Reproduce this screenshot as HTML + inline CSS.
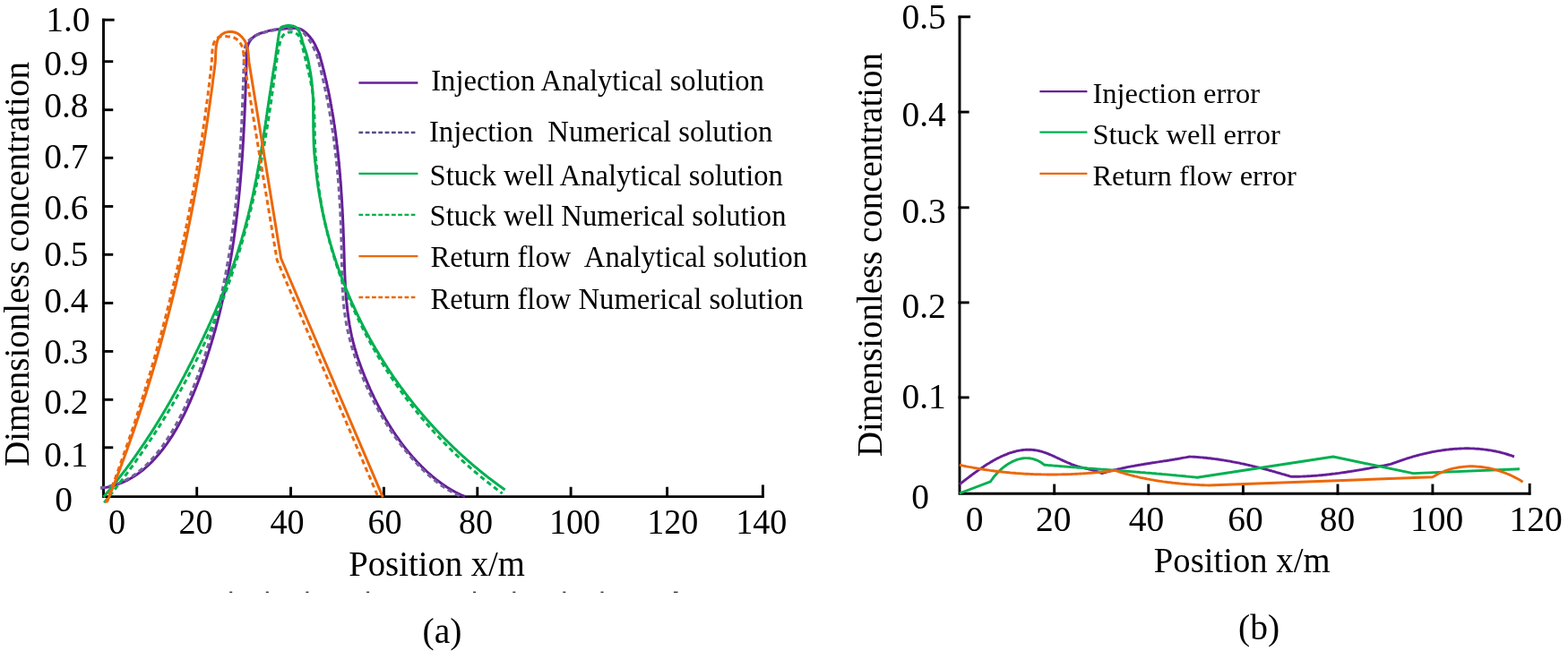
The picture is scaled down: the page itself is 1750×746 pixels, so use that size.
<!DOCTYPE html>
<html><head><meta charset="utf-8"><title>Figure</title>
<style>html,body{margin:0;padding:0;background:#fff}svg{display:block}</style></head>
<body>
<svg width="1750" height="746" viewBox="0 0 1750 746">
<rect width="1750" height="746" fill="#fff"/>
<g stroke="#000" stroke-width="2.9" fill="none" stroke-linecap="square">
<path d="M115.5,22.2 V554.6 H851.2"/>
<path d="M115.5,22.2 H126.2"/>
<path d="M115.5,68.7 H124.8"/>
<path d="M115.5,122.7 H124.8"/>
<path d="M115.5,176.3 H124.8"/>
<path d="M115.5,230.5 H124.8"/>
<path d="M115.5,284.3 H124.8"/>
<path d="M115.5,338.4 H124.8"/>
<path d="M115.5,392.4 H124.8"/>
<path d="M115.5,446.3 H124.8"/>
<path d="M115.5,499.8 H124.8"/>
<path d="M219.7,545.2 V554.6"/>
<path d="M324.5,545.2 V554.6"/>
<path d="M428.4,545.2 V554.6"/>
<path d="M532.8,545.2 V554.6"/>
<path d="M637.1,545.2 V554.6"/>
<path d="M744.6,545.2 V554.6"/>
<path d="M851.4,542.9 V554.6"/>
</g>
<g stroke="#000" stroke-width="2.9" fill="none" stroke-linecap="square">
<path d="M1071,19.1 V551.2 H1706.8"/>
<path d="M1071,18.8 H1081.6"/>
<path d="M1071,125.1 H1080.2"/>
<path d="M1071,231.8 H1080.2"/>
<path d="M1071,337.9 H1080.2"/>
<path d="M1071,443.9 H1080.2"/>
<path d="M1176.7,542.0 V551.2"/>
<path d="M1281.8,542.0 V551.2"/>
<path d="M1387.4,542.0 V551.2"/>
<path d="M1493,542.0 V551.2"/>
<path d="M1598.9,542.0 V551.2"/>
<path d="M1707.2,541.3 V551.2"/>
</g>
<path d="M112.2,545.2 L113.8,545.0 L115.4,544.8 L117.0,544.5 L118.5,544.3 L120.1,544.0 L121.6,543.6 L123.1,543.3 L124.6,542.9 L126.1,542.5 L127.6,542.1 L129.0,541.6 L130.5,541.2 L131.9,540.7 L133.3,540.1 L134.7,539.6 L136.1,539.0 L137.5,538.4 L138.8,537.8 L140.2,537.2 L141.5,536.6 L142.8,535.9 L144.1,535.2 L145.4,534.5 L146.7,533.8 L147.9,533.0 L149.2,532.2 L150.4,531.5 L151.6,530.6 L152.9,529.8 L154.1,529.0 L155.2,528.1 L156.4,527.3 L157.6,526.4 L158.7,525.5 L159.9,524.5 L161.0,523.6 L162.1,522.7 L163.2,521.7 L164.3,520.7 L165.4,519.7 L166.5,518.7 L167.5,517.7 L168.6,516.7 L169.6,515.6 L170.6,514.6 L171.6,513.5 L172.7,512.4 L173.6,511.3 L174.6,510.2 L175.6,509.1 L176.6,508.0 L177.5,506.9 L178.5,505.7 L179.4,504.6 L180.3,503.4 L181.3,502.3 L182.2,501.1 L183.1,499.9 L184.0,498.7 L184.8,497.5 L185.7,496.3 L186.6,495.1 L187.4,493.9 L188.3,492.7 L189.1,491.4 L189.9,490.2 L190.8,488.9 L191.6,487.7 L192.4,486.4 L193.2,485.1 L194.0,483.9 L194.7,482.6 L195.5,481.3 L196.3,480.0 L197.0,478.7 L197.8,477.4 L198.5,476.1 L199.3,474.8 L200.0,473.4 L200.7,472.1 L201.4,470.8 L202.1,469.4 L202.8,468.1 L203.5,466.7 L204.2,465.4 L204.9,464.0 L205.6,462.7 L206.2,461.3 L206.9,459.9 L207.6,458.6 L208.2,457.2 L208.8,455.8 L209.5,454.4 L210.1,453.0 L210.7,451.6 L211.4,450.2 L212.0,448.8 L212.6,447.4 L213.2,446.0 L213.8,444.6 L214.4,443.2 L215.0,441.8 L215.6,440.4 L216.2,439.0 L216.7,437.6 L217.3,436.2 L217.9,434.8 L218.5,433.3 L219.0,431.9 L219.6,430.5 L220.1,429.1 L220.7,427.7 L221.2,426.2 L221.8,424.8 L222.3,423.4 L222.8,422.0 L223.4,420.6 L223.9,419.1 L224.4,417.7 L224.9,416.3 L225.4,414.8 L226.0,413.4 L226.5,412.0 L227.0,410.6 L227.5,409.1 L228.0,407.7 L228.5,406.3 L229.0,404.8 L229.4,403.4 L229.9,402.0 L230.4,400.5 L230.9,399.1 L231.3,397.7 L231.8,396.2 L232.3,394.8 L232.7,393.4 L233.2,391.9 L233.7,390.5 L234.1,389.0 L234.5,387.6 L235.0,386.2 L235.4,384.7 L235.9,383.3 L236.3,381.8 L236.7,380.4 L237.2,378.9 L237.6,377.5 L238.0,376.1 L238.4,374.6 L238.8,373.2 L239.2,371.7 L239.7,370.3 L240.1,368.8 L240.5,367.4 L240.9,365.9 L241.2,364.5 L241.6,363.0 L242.0,361.6 L242.4,360.1 L242.8,358.7 L243.2,357.2 L243.5,355.8 L243.9,354.3 L244.3,352.8 L244.7,351.4 L245.0,349.9 L245.4,348.5 L245.7,347.0 L246.1,345.6 L246.4,344.1 L246.8,342.6 L247.1,341.2 L247.5,339.7 L247.8,338.3 L248.1,336.8 L248.5,335.3 L248.8,333.9 L249.1,332.4 L249.5,330.9 L249.8,329.5 L250.1,328.0 L250.4,326.6 L250.7,325.1 L251.0,323.6 L251.3,322.2 L251.7,320.7 L252.0,319.2 L252.3,317.8 L252.6,316.3 L252.8,314.8 L253.1,313.3 L253.4,311.9 L253.7,310.4 L254.0,308.9 L254.3,307.5 L254.5,306.0 L254.8,304.5 L255.1,303.0 L255.4,301.6 L255.6,300.1 L255.9,298.6 L256.2,297.2 L256.4,295.7 L256.7,294.2 L256.9,292.7 L257.2,291.3 L257.4,289.8 L257.7,288.3 L257.9,286.8 L258.2,285.3 L258.4,283.9 L258.6,282.4 L258.9,280.9 L259.1,279.4 L259.3,277.9 L259.6,276.5 L259.8,275.0 L260.0,273.5 L260.2,272.0 L260.5,270.5 L260.7,269.1 L260.9,267.6 L261.1,266.1 L261.3,264.6 L261.5,263.1 L261.7,261.6 L261.9,260.1 L262.1,258.7 L262.3,257.2 L262.5,255.7 L262.7,254.2 L262.9,252.7 L263.1,251.2 L263.3,249.7 L263.5,248.3 L263.7,246.8 L263.8,245.3 L264.0,243.8 L264.2,242.3 L264.4,240.8 L264.6,239.3 L264.7,237.8 L264.9,236.3 L265.1,234.8 L265.2,233.4 L265.4,231.9 L265.6,230.4 L265.7,228.9 L265.9,227.4 L266.0,225.9 L266.2,224.4 L266.3,222.9 L266.5,221.4 L266.6,219.9 L266.8,218.4 L266.9,216.9 L267.1,215.4 L267.2,213.9 L267.4,212.4 L267.5,210.9 L267.6,209.4 L267.8,208.0 L267.9,206.5 L268.0,205.0 L268.2,203.5 L268.3,202.0 L268.4,200.5 L268.6,199.0 L268.7,197.5 L268.8,196.0 L268.9,194.5 L269.0,193.0 L269.2,191.5 L269.3,190.0 L269.4,188.5 L269.5,187.0 L269.6,185.5 L269.7,184.0 L269.8,182.5 L270.0,181.0 L270.1,179.5 L270.2,178.0 L270.3,176.5 L270.4,175.0 L270.5,173.5 L270.6,172.0 L270.7,170.5 L270.8,169.0 L270.9,167.5 L271.0,166.0 L271.1,164.4 L271.1,162.9 L271.2,161.4 L271.3,159.9 L271.4,158.4 L271.5,156.9 L271.6,155.4 L271.7,153.9 L271.8,152.4 L271.8,150.9 L271.9,149.4 L272.0,147.9 L272.1,146.4 L272.2,144.9 L272.2,143.4 L272.3,141.9 L272.4,140.4 L272.5,138.9 L272.5,137.4 L272.6,135.9 L272.7,134.4 L272.8,132.8 L272.8,131.3 L272.9,129.8 L273.0,128.3 L273.0,126.8 L273.1,125.3 L273.2,123.8 L273.2,122.3 L273.3,120.8 L273.4,119.3 L273.4,117.8 L273.5,116.3 L273.5,114.8 L273.6,113.3 L273.7,111.8 L273.7,110.2 L273.8,108.7 L273.8,107.2 L273.9,105.7 L273.9,104.2 L274.0,102.7 L274.1,101.2 L274.1,99.7 L274.2,98.2 L274.2,96.7 L274.3,95.2 L274.3,93.7 L274.4,92.1 L274.4,90.6 L274.5,89.1 L274.5,87.6 L274.6,86.1 L274.6,84.6 L274.7,83.1 L274.7,81.6 L274.8,80.1 L274.8,78.6 L274.8,77.1 L274.9,75.6 L274.9,74.0 L275.0,72.5 L275.0,71.0 L275.1,69.5 L275.1,68.0 L275.2,66.5 L275.2,65.0 L275.3,63.3 L275.4,61.6 L275.5,59.9 L275.5,58.2 L275.6,56.6 L275.8,54.9 L276.0,53.4 L276.3,52.0 L276.8,50.4 L277.3,48.9 L277.9,47.6 L278.7,46.3 L279.5,45.0 L280.5,43.8 L281.6,42.6 L282.8,41.5 L284.0,40.5 L285.3,39.6 L286.8,38.7 L288.4,38.0 L290.1,37.4 L292.0,36.8 L293.4,36.3 L295.0,35.9 L296.7,35.4 L298.4,34.9 L300.1,34.4 L301.8,34.0 L303.4,33.7 L304.8,33.4 L306.5,33.1 L308.0,33.0 L309.4,32.8 L311.1,32.7 L312.4,32.6 L313.9,32.4 L315.4,32.3 L316.9,32.1 L318.5,32.0 L320.1,31.8 L321.7,31.8 L323.2,31.7 L324.9,31.6 L326.5,31.5 L328.2,31.5 L329.9,31.5 L331.5,31.5 L333.0,31.7 L334.5,32.1 L336.0,32.7 L337.4,33.5 L338.7,34.4 L340.0,35.4 L341.3,36.5 L342.5,37.6 L343.5,38.6 L344.5,39.7 L345.5,40.8 L346.4,41.9 L347.4,43.2 L348.3,44.4 L349.2,45.7 L350.0,47.0 L350.8,48.3 L351.5,49.7 L352.2,51.1 L352.9,52.6 L353.6,54.1 L354.3,55.6 L354.9,57.1 L355.6,58.5 L356.3,60.0 L356.7,61.5 L357.1,62.9 L357.5,64.4 L357.9,65.8 L358.3,67.3 L358.7,68.8 L359.1,70.2 L359.5,71.7 L359.9,73.1 L360.3,74.6 L360.6,76.1 L361.0,77.5 L361.4,79.0 L361.7,80.5 L362.1,81.9 L362.4,83.4 L362.8,84.9 L363.1,86.3 L363.5,87.8 L363.8,89.3 L364.1,90.7 L364.5,92.2 L364.8,93.7 L365.1,95.2 L365.4,96.6 L365.7,98.1 L366.1,99.6 L366.4,101.0 L366.7,102.5 L367.0,104.0 L367.3,105.5 L367.6,106.9 L367.8,108.4 L368.1,109.9 L368.4,111.4 L368.7,112.8 L369.0,114.3 L369.2,115.8 L369.5,117.3 L369.8,118.8 L370.0,120.2 L370.3,121.7 L370.6,123.2 L370.8,124.7 L371.1,126.2 L371.3,127.6 L371.5,129.1 L371.8,130.6 L372.0,132.1 L372.3,133.6 L372.5,135.1 L372.7,136.5 L372.9,138.0 L373.2,139.5 L373.4,141.0 L373.6,142.5 L373.8,144.0 L374.0,145.5 L374.2,147.0 L374.4,148.4 L374.6,149.9 L374.8,151.4 L375.0,152.9 L375.2,154.4 L375.4,155.9 L375.6,157.4 L375.8,158.9 L375.9,160.4 L376.1,161.9 L376.3,163.3 L376.5,164.8 L376.6,166.3 L376.8,167.8 L377.0,169.3 L377.1,170.8 L377.3,172.3 L377.5,173.8 L377.6,175.3 L377.8,176.8 L377.9,178.3 L378.1,179.8 L378.2,181.3 L378.4,182.8 L378.5,184.3 L378.6,185.8 L378.8,187.3 L378.9,188.8 L379.1,190.3 L379.2,191.8 L379.3,193.3 L379.4,194.8 L379.6,196.3 L379.7,197.8 L379.8,199.3 L379.9,200.8 L380.0,202.3 L380.2,203.8 L380.3,205.3 L380.4,206.8 L380.5,208.3 L380.6,209.8 L380.7,211.3 L380.8,212.8 L380.9,214.3 L381.0,215.8 L381.1,217.3 L381.2,218.8 L381.3,220.3 L381.4,221.8 L381.5,223.3 L381.6,224.8 L381.7,226.3 L381.7,227.8 L381.8,229.3 L381.9,230.8 L382.0,232.3 L382.1,233.9 L382.2,235.4 L382.2,236.9 L382.3,238.4 L382.4,239.9 L382.5,241.4 L382.5,242.9 L382.6,244.4 L382.7,245.9 L382.7,247.4 L382.8,248.9 L382.9,250.4 L382.9,252.0 L383.0,253.5 L383.1,255.0 L383.1,256.5 L383.2,258.0 L383.2,259.5 L383.3,261.0 L383.3,262.5 L383.4,264.0 L383.5,265.5 L383.5,267.1 L383.6,268.6 L383.6,270.1 L383.7,271.6 L383.7,273.1 L383.8,274.6 L383.8,276.1 L383.9,277.6 L383.9,279.1 L384.0,280.7 L384.0,282.2 L384.1,283.7 L384.1,285.2 L384.1,286.7 L384.2,288.2 L384.2,289.7 L384.3,291.2 L384.3,292.8 L384.4,294.3 L384.4,295.8 L384.5,297.3 L384.5,298.8 L384.6,300.3 L384.7,301.8 L384.7,303.3 L384.8,304.8 L384.8,306.3 L384.9,307.9 L385.0,309.4 L385.0,310.9 L385.1,312.4 L385.2,313.9 L385.3,315.4 L385.3,316.9 L385.4,318.4 L385.5,319.9 L385.6,321.4 L385.7,322.9 L385.8,324.4 L385.9,325.9 L386.0,327.4 L386.1,328.9 L386.2,330.4 L386.3,331.9 L386.5,333.4 L386.6,334.9 L386.7,336.4 L386.9,337.9 L387.0,339.3 L387.2,340.8 L387.3,342.3 L387.5,343.8 L387.6,345.3 L387.8,346.8 L388.0,348.3 L388.2,349.7 L388.4,351.2 L388.6,352.7 L388.8,354.2 L389.0,355.6 L389.2,357.1 L389.4,358.6 L389.7,360.1 L389.9,361.5 L390.1,363.0 L390.4,364.5 L390.7,365.9 L390.9,367.4 L391.2,368.8 L391.5,370.3 L391.8,371.8 L392.1,373.2 L392.4,374.7 L392.7,376.1 L393.1,377.6 L393.4,379.0 L393.8,380.4 L394.1,381.9 L394.5,383.3 L394.9,384.8 L395.3,386.2 L395.6,387.6 L396.1,389.1 L396.5,390.5 L396.9,391.9 L397.3,393.3 L397.8,394.8 L398.2,396.2 L398.7,397.6 L399.1,399.0 L399.6,400.5 L400.1,401.9 L400.6,403.3 L401.1,404.7 L401.6,406.1 L402.1,407.5 L402.6,408.9 L403.1,410.3 L403.6,411.7 L404.2,413.1 L404.7,414.5 L405.3,415.9 L405.8,417.3 L406.4,418.7 L406.9,420.1 L407.5,421.5 L408.1,422.9 L408.7,424.3 L409.3,425.7 L409.9,427.1 L410.5,428.5 L411.1,429.9 L411.7,431.3 L412.3,432.7 L412.9,434.1 L413.5,435.4 L414.2,436.8 L414.8,438.2 L415.5,439.6 L416.1,441.0 L416.8,442.3 L417.4,443.7 L418.1,445.1 L418.8,446.5 L419.5,447.8 L420.1,449.2 L420.8,450.5 L421.5,451.9 L422.2,453.3 L422.9,454.6 L423.7,456.0 L424.4,457.3 L425.1,458.7 L425.8,460.0 L426.6,461.3 L427.3,462.7 L428.1,464.0 L428.8,465.3 L429.6,466.6 L430.3,468.0 L431.1,469.3 L431.9,470.6 L432.7,471.9 L433.5,473.2 L434.3,474.5 L435.1,475.8 L435.9,477.1 L436.7,478.4 L437.5,479.6 L438.4,480.9 L439.2,482.2 L440.0,483.5 L440.9,484.7 L441.7,486.0 L442.6,487.2 L443.5,488.5 L444.4,489.7 L445.2,490.9 L446.1,492.2 L447.0,493.4 L447.9,494.6 L448.8,495.8 L449.7,497.0 L450.6,498.2 L451.6,499.4 L452.5,500.6 L453.4,501.8 L454.4,503.0 L455.3,504.1 L456.3,505.3 L457.3,506.4 L458.2,507.6 L459.2,508.7 L460.2,509.9 L461.2,511.0 L462.2,512.1 L463.2,513.2 L464.2,514.3 L465.2,515.4 L466.2,516.5 L467.3,517.6 L468.3,518.7 L469.4,519.7 L470.4,520.8 L471.5,521.8 L472.5,522.9 L473.6,523.9 L474.7,524.9 L475.8,526.0 L476.9,527.0 L478.0,528.0 L479.1,529.0 L480.2,529.9 L481.3,530.9 L482.4,531.9 L483.6,532.8 L484.7,533.8 L485.9,534.7 L487.0,535.6 L488.2,536.5 L489.4,537.4 L490.6,538.3 L491.8,539.2 L493.0,540.1 L494.2,540.9 L495.4,541.8 L496.6,542.6 L497.9,543.4 L499.1,544.2 L500.4,545.0 L501.6,545.8 L502.9,546.6 L504.2,547.3 L505.5,548.1 L506.8,548.8 L508.1,549.5 L509.4,550.2 L510.8,550.9 L512.1,551.5 L513.5,552.2 L514.8,552.8 L516.2,553.4 L517.6,554.0 L519.0,554.6" fill="none" stroke="#661f98" stroke-width="3.0" stroke-linejoin="round"/>
<path d="M112.2,544.8 L113.8,544.6 L115.4,544.4 L117.0,544.1 L118.5,543.8 L120.1,543.5 L121.6,543.1 L123.1,542.7 L124.6,542.3 L126.0,541.9 L127.5,541.5 L128.9,541.0 L130.3,540.5 L131.8,539.9 L133.2,539.4 L134.5,538.8 L135.9,538.2 L137.2,537.6 L138.6,537.0 L139.9,536.3 L141.2,535.6 L142.5,534.9 L143.8,534.2 L145.0,533.4 L146.3,532.7 L147.5,531.9 L148.7,531.1 L149.9,530.2 L151.1,529.4 L152.3,528.5 L153.5,527.6 L154.6,526.7 L155.8,525.8 L156.9,524.9 L158.0,524.0 L159.1,523.0 L160.2,522.0 L161.3,521.0 L162.4,520.0 L163.5,519.0 L164.5,518.0 L165.6,516.9 L166.6,515.9 L167.6,514.8 L168.6,513.7 L169.6,512.6 L170.6,511.5 L171.6,510.4 L172.5,509.3 L173.5,508.2 L174.4,507.0 L175.4,505.9 L176.3,504.7 L177.2,503.5 L178.2,502.4 L179.1,501.2 L179.9,500.0 L180.8,498.8 L181.7,497.6 L182.6,496.4 L183.4,495.1 L184.3,493.9 L185.1,492.7 L186.0,491.4 L186.8,490.2 L187.6,488.9 L188.4,487.7 L189.2,486.4 L190.0,485.1 L190.8,483.8 L191.6,482.6 L192.4,481.3 L193.1,480.0 L193.9,478.7 L194.6,477.3 L195.4,476.0 L196.1,474.7 L196.9,473.4 L197.6,472.0 L198.3,470.7 L199.0,469.4 L199.7,468.0 L200.4,466.7 L201.1,465.3 L201.8,464.0 L202.5,462.6 L203.1,461.2 L203.8,459.9 L204.5,458.5 L205.1,457.1 L205.8,455.7 L206.4,454.4 L207.0,453.0 L207.7,451.6 L208.3,450.2 L208.9,448.8 L209.5,447.4 L210.2,446.0 L210.8,444.6 L211.4,443.2 L212.0,441.8 L212.6,440.4 L213.1,439.0 L213.7,437.5 L214.3,436.1 L214.9,434.7 L215.4,433.3 L216.0,431.9 L216.6,430.5 L217.1,429.0 L217.7,427.6 L218.2,426.2 L218.8,424.8 L219.3,423.4 L219.9,421.9 L220.4,420.5 L220.9,419.1 L221.5,417.7 L222.0,416.2 L222.5,414.8 L223.0,413.4 L223.5,412.0 L224.0,410.5 L224.5,409.1 L225.0,407.7 L225.5,406.2 L226.0,404.8 L226.5,403.4 L227.0,401.9 L227.5,400.5 L228.0,399.1 L228.5,397.6 L228.9,396.2 L229.4,394.8 L229.9,393.3 L230.3,391.9 L230.8,390.4 L231.2,389.0 L231.7,387.6 L232.1,386.1 L232.6,384.7 L233.0,383.2 L233.5,381.8 L233.9,380.3 L234.3,378.9 L234.7,377.5 L235.2,376.0 L235.6,374.6 L236.0,373.1 L236.4,371.7 L236.8,370.2 L237.2,368.8 L237.6,367.3 L238.0,365.9 L238.4,364.4 L238.8,363.0 L239.2,361.5 L239.6,360.1 L240.0,358.6 L240.4,357.2 L240.7,355.7 L241.1,354.2 L241.5,352.8 L241.9,351.3 L242.2,349.9 L242.6,348.4 L242.9,347.0 L243.3,345.5 L243.7,344.0 L244.0,342.6 L244.4,341.1 L244.7,339.7 L245.0,338.2 L245.4,336.7 L245.7,335.3 L246.0,333.8 L246.4,332.3 L246.7,330.9 L247.0,329.4 L247.3,327.9 L247.7,326.5 L248.0,325.0 L248.3,323.5 L248.6,322.1 L248.9,320.6 L249.2,319.1 L249.5,317.7 L249.8,316.2 L250.1,314.7 L250.4,313.3 L250.7,311.8 L251.0,310.3 L251.2,308.8 L251.5,307.4 L251.8,305.9 L252.1,304.4 L252.4,302.9 L252.6,301.5 L252.9,300.0 L253.2,298.5 L253.4,297.0 L253.7,295.6 L253.9,294.1 L254.2,292.6 L254.5,291.1 L254.7,289.6 L255.0,288.2 L255.2,286.7 L255.4,285.2 L255.7,283.7 L255.9,282.2 L256.2,280.8 L256.4,279.3 L256.6,277.8 L256.8,276.3 L257.1,274.8 L257.3,273.3 L257.5,271.9 L257.7,270.4 L258.0,268.9 L258.2,267.4 L258.4,265.9 L258.6,264.4 L258.8,262.9 L259.0,261.5 L259.2,260.0 L259.4,258.5 L259.6,257.0 L259.8,255.5 L260.0,254.0 L260.2,252.5 L260.4,251.0 L260.6,249.5 L260.8,248.0 L260.9,246.6 L261.1,245.1 L261.3,243.6 L261.5,242.1 L261.7,240.6 L261.8,239.1 L262.0,237.6 L262.2,236.1 L262.3,234.6 L262.5,233.1 L262.7,231.6 L262.8,230.1 L263.0,228.6 L263.1,227.1 L263.3,225.6 L263.5,224.2 L263.6,222.7 L263.8,221.2 L263.9,219.7 L264.1,218.2 L264.2,216.7 L264.3,215.2 L264.5,213.7 L264.6,212.2 L264.8,210.7 L264.9,209.2 L265.0,207.7 L265.2,206.2 L265.3,204.7 L265.4,203.2 L265.6,201.7 L265.7,200.2 L265.8,198.7 L265.9,197.2 L266.1,195.7 L266.2,194.2 L266.3,192.7 L266.4,191.2 L266.5,189.7 L266.6,188.2 L266.8,186.7 L266.9,185.2 L267.0,183.7 L267.1,182.1 L267.2,180.6 L267.3,179.1 L267.4,177.6 L267.5,176.1 L267.6,174.6 L267.7,173.1 L267.8,171.6 L267.9,170.1 L268.0,168.6 L268.1,167.1 L268.2,165.6 L268.3,164.1 L268.4,162.6 L268.5,161.1 L268.5,159.6 L268.6,158.1 L268.7,156.6 L268.8,155.1 L268.9,153.6 L269.0,152.0 L269.1,150.5 L269.1,149.0 L269.2,147.5 L269.3,146.0 L269.4,144.5 L269.4,143.0 L269.5,141.5 L269.6,140.0 L269.7,138.5 L269.7,137.0 L269.8,135.5 L269.9,134.0 L269.9,132.4 L270.0,130.9 L270.1,129.4 L270.1,127.9 L270.2,126.4 L270.3,124.9 L270.3,123.4 L270.4,121.9 L270.5,120.4 L270.5,118.9 L270.6,117.4 L270.6,115.8 L270.7,114.3 L270.8,112.8 L270.8,111.3 L270.9,109.8 L270.9,108.3 L271.0,106.8 L271.0,105.3 L271.1,103.8 L271.1,102.3 L271.2,100.8 L271.2,99.2 L271.3,97.7 L271.3,96.2 L271.4,94.7 L271.4,93.2 L271.5,91.7 L271.5,90.2 L271.6,88.7 L271.6,87.2 L271.7,85.7 L271.7,84.1 L271.8,82.6 L271.8,81.1 L271.9,79.6 L271.9,78.1 L271.9,76.6 L272.0,75.1 L272.0,73.6 L272.1,72.1 L272.1,70.6 L272.2,69.1 L272.2,67.5 L272.2,66.0 L272.3,64.5 L272.3,63.0 L272.4,61.5 L272.4,60.0 L272.7,58.3 L272.9,56.5 L273.1,54.8 L273.4,53.1 L273.8,51.5 L274.3,50.0 L275.1,48.4 L276.1,47.0 L277.3,45.7 L278.5,44.5 L279.7,43.5 L281.0,42.5 L282.4,41.6 L283.9,40.8 L285.3,40.0 L286.9,39.2 L288.5,38.5 L290.2,37.9 L292.0,37.3 L293.4,36.8 L295.0,36.4 L296.7,35.9 L298.4,35.4 L300.1,35.0 L301.8,34.5 L303.4,34.2 L304.8,33.9 L306.5,33.6 L308.0,33.5 L309.4,33.3 L311.1,33.2 L312.4,33.1 L313.9,32.9 L315.4,32.8 L316.9,32.6 L318.5,32.5 L320.1,32.4 L321.7,32.3 L323.2,32.3 L324.9,32.3 L326.6,32.2 L328.3,32.1 L330.0,32.2 L331.6,32.3 L333.1,32.5 L334.5,33.0 L336.0,33.9 L337.4,35.0 L338.6,36.3 L339.8,37.8 L341.0,39.2 L342.0,40.4 L342.9,41.6 L343.9,42.9 L344.8,44.3 L345.7,45.6 L346.6,47.0 L347.5,48.5 L348.2,49.8 L348.9,51.1 L349.6,52.5 L350.3,53.9 L350.9,55.3 L351.5,56.7 L352.2,58.2 L352.8,59.6 L353.5,61.0 L353.9,62.5 L354.3,63.9 L354.7,65.4 L355.1,66.8 L355.5,68.3 L355.9,69.8 L356.2,71.2 L356.6,72.7 L357.0,74.2 L357.4,75.6 L357.7,77.1 L358.1,78.6 L358.4,80.0 L358.8,81.5 L359.1,83.0 L359.5,84.4 L359.8,85.9 L360.2,87.4 L360.5,88.9 L360.9,90.3 L361.2,91.8 L361.5,93.3 L361.8,94.7 L362.2,96.2 L362.5,97.7 L362.8,99.2 L363.1,100.6 L363.4,102.1 L363.7,103.6 L364.0,105.1 L364.3,106.5 L364.6,108.0 L364.9,109.5 L365.2,111.0 L365.5,112.5 L365.8,113.9 L366.1,115.4 L366.3,116.9 L366.6,118.4 L366.9,119.9 L367.1,121.3 L367.4,122.8 L367.7,124.3 L367.9,125.8 L368.2,127.3 L368.4,128.8 L368.7,130.2 L368.9,131.7 L369.2,133.2 L369.4,134.7 L369.7,136.2 L369.9,137.7 L370.1,139.2 L370.4,140.6 L370.6,142.1 L370.8,143.6 L371.0,145.1 L371.3,146.6 L371.5,148.1 L371.7,149.6 L371.9,151.1 L372.1,152.6 L372.3,154.0 L372.5,155.5 L372.7,157.0 L372.9,158.5 L373.1,160.0 L373.3,161.5 L373.5,163.0 L373.7,164.5 L373.9,166.0 L374.0,167.5 L374.2,169.0 L374.4,170.5 L374.6,172.0 L374.7,173.5 L374.9,175.0 L375.1,176.5 L375.2,178.0 L375.4,179.5 L375.5,181.0 L375.7,182.5 L375.9,184.0 L376.0,185.4 L376.2,186.9 L376.3,188.4 L376.4,189.9 L376.6,191.4 L376.7,192.9 L376.9,194.5 L377.0,196.0 L377.1,197.5 L377.3,199.0 L377.4,200.5 L377.5,202.0 L377.6,203.5 L377.7,205.0 L377.9,206.5 L378.0,208.0 L378.1,209.5 L378.2,211.0 L378.3,212.5 L378.4,214.0 L378.5,215.5 L378.6,217.0 L378.7,218.5 L378.8,220.0 L378.9,221.5 L379.0,223.0 L379.1,224.5 L379.2,226.0 L379.3,227.6 L379.4,229.1 L379.5,230.6 L379.5,232.1 L379.6,233.6 L379.7,235.1 L379.8,236.6 L379.9,238.1 L379.9,239.6 L380.0,241.1 L380.1,242.7 L380.1,244.2 L380.2,245.7 L380.3,247.2 L380.3,248.7 L380.4,250.2 L380.4,251.7 L380.5,253.2 L380.5,254.7 L380.6,256.3 L380.6,257.8 L380.7,259.3 L380.7,260.8 L380.8,262.3 L380.8,263.8 L380.9,265.3 L380.9,266.9 L381.0,268.4 L381.0,269.9 L381.0,271.4 L381.1,272.9 L381.1,274.4 L381.1,275.9 L381.1,277.5 L381.2,279.0 L381.2,280.5 L381.2,282.0 L381.3,283.5 L381.3,285.0 L381.3,286.6 L381.3,288.1 L381.3,289.6 L381.4,291.1 L381.4,292.6 L381.4,294.1 L381.5,295.7 L381.5,297.2 L381.5,298.7 L381.5,300.2 L381.6,301.7 L381.6,303.2 L381.6,304.7 L381.7,306.3 L381.7,307.8 L381.8,309.3 L381.8,310.8 L381.9,312.3 L381.9,313.8 L382.0,315.3 L382.0,316.8 L382.1,318.3 L382.2,319.8 L382.2,321.3 L382.3,322.8 L382.4,324.3 L382.5,325.8 L382.6,327.3 L382.7,328.8 L382.8,330.3 L382.9,331.8 L383.0,333.3 L383.1,334.8 L383.2,336.3 L383.4,337.8 L383.5,339.3 L383.6,340.8 L383.8,342.3 L383.9,343.8 L384.1,345.2 L384.3,346.7 L384.5,348.2 L384.7,349.7 L384.9,351.2 L385.1,352.6 L385.3,354.1 L385.5,355.6 L385.7,357.0 L386.0,358.5 L386.2,360.0 L386.5,361.4 L386.8,362.9 L387.0,364.4 L387.3,365.8 L387.6,367.3 L387.9,368.7 L388.2,370.2 L388.6,371.6 L388.9,373.1 L389.3,374.5 L389.6,376.0 L390.0,377.4 L390.3,378.8 L390.7,380.3 L391.1,381.7 L391.5,383.2 L391.9,384.6 L392.3,386.0 L392.7,387.5 L393.1,388.9 L393.6,390.3 L394.0,391.7 L394.4,393.2 L394.9,394.6 L395.4,396.0 L395.8,397.4 L396.3,398.9 L396.8,400.3 L397.3,401.7 L397.8,403.1 L398.3,404.5 L398.8,405.9 L399.3,407.3 L399.8,408.8 L400.3,410.2 L400.9,411.6 L401.4,413.0 L401.9,414.4 L402.5,415.8 L403.1,417.2 L403.6,418.6 L404.2,420.0 L404.8,421.4 L405.3,422.8 L405.9,424.2 L406.5,425.6 L407.1,427.0 L407.7,428.4 L408.3,429.8 L408.9,431.2 L409.6,432.6 L410.2,433.9 L410.8,435.3 L411.5,436.7 L412.1,438.1 L412.8,439.5 L413.4,440.8 L414.1,442.2 L414.7,443.6 L415.4,444.9 L416.1,446.3 L416.8,447.7 L417.5,449.0 L418.2,450.4 L418.9,451.7 L419.6,453.1 L420.3,454.4 L421.0,455.7 L421.8,457.1 L422.5,458.4 L423.2,459.8 L424.0,461.1 L424.7,462.4 L425.5,463.7 L426.3,465.0 L427.0,466.4 L427.8,467.7 L428.6,469.0 L429.4,470.3 L430.2,471.6 L431.0,472.9 L431.8,474.2 L432.6,475.4 L433.4,476.7 L434.2,478.0 L435.1,479.3 L435.9,480.6 L436.7,481.8 L437.6,483.1 L438.4,484.3 L439.3,485.6 L440.2,486.8 L441.0,488.1 L441.9,489.3 L442.8,490.5 L443.7,491.8 L444.6,493.0 L445.5,494.2 L446.4,495.4 L447.3,496.6 L448.2,497.8 L449.2,499.0 L450.1,500.2 L451.0,501.4 L452.0,502.6 L452.9,503.7 L453.9,504.9 L454.8,506.1 L455.8,507.2 L456.8,508.4 L457.8,509.5 L458.7,510.6 L459.7,511.8 L460.7,512.9 L461.7,514.0 L462.7,515.1 L463.8,516.2 L464.8,517.3 L465.8,518.4 L466.8,519.5 L467.9,520.6 L468.9,521.6 L470.0,522.7 L471.0,523.8 L472.1,524.8 L473.2,525.9 L474.2,526.9 L475.3,527.9 L476.4,528.9 L477.5,529.9 L478.6,530.9 L479.7,531.9 L480.9,532.9 L482.0,533.9 L483.1,534.8 L484.3,535.8 L485.4,536.7 L486.6,537.6 L487.8,538.6 L488.9,539.5 L490.1,540.3 L491.3,541.2 L492.5,542.1 L493.8,542.9 L495.0,543.8 L496.2,544.6 L497.5,545.4 L498.7,546.2 L500.0,547.0 L501.3,547.8 L502.6,548.5 L503.9,549.2 L505.2,550.0 L506.5,550.7 L507.9,551.4 L509.2,552.0 L510.6,552.7 L512.0,553.3 L513.3,553.9 L514.7,554.5 L516.2,555.1" fill="none" stroke="#74609e" stroke-width="3.0" stroke-linejoin="round" stroke-dasharray="5.6 3.8"/>
<path d="M115.5,554.9 L116.5,553.8 L117.5,552.6 L118.4,551.5 L119.4,550.3 L120.4,549.2 L121.3,548.1 L122.3,546.9 L123.2,545.7 L124.2,544.6 L125.1,543.4 L126.1,542.3 L127.0,541.1 L128.0,539.9 L128.9,538.8 L129.9,537.6 L130.8,536.4 L131.7,535.3 L132.6,534.1 L133.6,532.9 L134.5,531.7 L135.4,530.5 L136.3,529.3 L137.2,528.1 L138.1,527.0 L139.1,525.8 L140.0,524.6 L140.9,523.4 L141.8,522.2 L142.6,521.0 L143.5,519.8 L144.4,518.6 L145.3,517.3 L146.2,516.1 L147.1,514.9 L148.0,513.7 L148.8,512.5 L149.7,511.3 L150.6,510.0 L151.4,508.8 L152.3,507.6 L153.2,506.4 L154.0,505.1 L154.9,503.9 L155.7,502.7 L156.6,501.4 L157.4,500.2 L158.3,498.9 L159.1,497.7 L160.0,496.5 L160.8,495.2 L161.7,494.0 L162.5,492.7 L163.3,491.5 L164.1,490.2 L165.0,488.9 L165.8,487.7 L166.6,486.4 L167.4,485.2 L168.3,483.9 L169.1,482.6 L169.9,481.4 L170.7,480.1 L171.5,478.8 L172.3,477.6 L173.1,476.3 L173.9,475.0 L174.7,473.7 L175.5,472.4 L176.3,471.2 L177.1,469.9 L177.8,468.6 L178.6,467.3 L179.4,466.0 L180.2,464.7 L181.0,463.4 L181.7,462.2 L182.5,460.9 L183.3,459.6 L184.1,458.3 L184.8,457.0 L185.6,455.7 L186.3,454.4 L187.1,453.1 L187.9,451.8 L188.6,450.5 L189.4,449.2 L190.1,447.8 L190.9,446.5 L191.6,445.2 L192.3,443.9 L193.1,442.6 L193.8,441.3 L194.6,440.0 L195.3,438.6 L196.0,437.3 L196.8,436.0 L197.5,434.7 L198.2,433.4 L198.9,432.0 L199.7,430.7 L200.4,429.4 L201.1,428.1 L201.8,426.7 L202.5,425.4 L203.2,424.1 L204.0,422.7 L204.7,421.4 L205.4,420.1 L206.1,418.7 L206.8,417.4 L207.5,416.0 L208.2,414.7 L208.9,413.4 L209.6,412.0 L210.2,410.7 L210.9,409.3 L211.6,408.0 L212.3,406.7 L213.0,405.3 L213.7,404.0 L214.4,402.6 L215.0,401.3 L215.7,399.9 L216.4,398.6 L217.1,397.2 L217.7,395.9 L218.4,394.5 L219.1,393.1 L219.7,391.8 L220.4,390.4 L221.1,389.1 L221.7,387.7 L222.4,386.4 L223.0,385.0 L223.7,383.6 L224.4,382.3 L225.0,380.9 L225.7,379.6 L226.3,378.2 L227.0,376.8 L227.6,375.5 L228.2,374.1 L228.9,372.7 L229.5,371.4 L230.2,370.0 L230.8,368.6 L231.4,367.3 L232.1,365.9 L232.7,364.5 L233.3,363.1 L233.9,361.8 L234.6,360.4 L235.2,359.0 L235.8,357.6 L236.4,356.3 L237.0,354.9 L237.6,353.5 L238.2,352.1 L238.8,350.8 L239.5,349.4 L240.1,348.0 L240.7,346.6 L241.3,345.2 L241.8,343.8 L242.4,342.5 L243.0,341.1 L243.6,339.7 L244.2,338.3 L244.8,336.9 L245.4,335.5 L245.9,334.1 L246.5,332.7 L247.1,331.3 L247.6,330.0 L248.2,328.6 L248.8,327.2 L249.3,325.8 L249.9,324.4 L250.4,323.0 L251.0,321.6 L251.5,320.2 L252.1,318.8 L252.6,317.4 L253.2,316.0 L253.7,314.6 L254.2,313.2 L254.8,311.7 L255.3,310.3 L255.8,308.9 L256.3,307.5 L256.9,306.1 L257.4,304.7 L257.9,303.3 L258.4,301.9 L258.9,300.5 L259.4,299.0 L259.9,297.6 L260.4,296.2 L260.9,294.8 L261.4,293.4 L261.8,291.9 L262.3,290.5 L262.8,289.1 L263.3,287.7 L263.7,286.3 L264.2,284.8 L264.7,283.4 L265.1,282.0 L265.6,280.5 L266.0,279.1 L266.5,277.7 L266.9,276.2 L267.4,274.8 L267.8,273.4 L268.3,271.9 L268.7,270.5 L269.1,269.1 L269.6,267.6 L270.0,266.2 L270.4,264.8 L270.8,263.3 L271.2,261.9 L271.7,260.4 L272.1,259.0 L272.5,257.5 L272.9,256.1 L273.3,254.6 L273.7,253.2 L274.1,251.7 L274.4,250.3 L274.8,248.8 L275.2,247.4 L275.6,245.9 L276.0,244.5 L276.3,243.0 L276.7,241.6 L277.1,240.1 L277.4,238.7 L277.8,237.2 L278.2,235.7 L278.5,234.3 L278.9,232.8 L279.2,231.4 L279.5,229.9 L279.9,228.4 L280.2,227.0 L280.6,225.5 L280.9,224.0 L281.2,222.6 L281.5,221.1 L281.9,219.6 L282.2,218.2 L282.5,216.7 L282.8,215.2 L283.1,213.7 L283.4,212.3 L283.7,210.8 L284.0,209.3 L284.3,207.8 L284.6,206.4 L284.9,204.9 L285.2,203.4 L285.5,201.9 L285.8,200.5 L286.1,199.0 L286.4,197.5 L286.6,196.0 L286.9,194.5 L287.2,193.1 L287.5,191.6 L287.7,190.1 L288.0,188.6 L288.3,187.1 L288.6,185.6 L288.8,184.2 L289.1,182.7 L289.3,181.2 L289.6,179.7 L289.9,178.2 L290.1,176.7 L290.4,175.2 L290.6,173.8 L290.9,172.3 L291.1,170.8 L291.4,169.3 L291.6,167.8 L291.9,166.3 L292.1,164.8 L292.3,163.3 L292.6,161.8 L292.8,160.4 L293.1,158.9 L293.3,157.4 L293.5,155.9 L293.8,154.4 L294.0,152.9 L294.2,151.4 L294.5,149.9 L294.7,148.4 L294.9,146.9 L295.2,145.4 L295.4,143.9 L295.6,142.5 L295.8,141.0 L296.1,139.5 L296.3,138.0 L296.5,136.5 L296.7,135.0 L297.0,133.5 L297.2,132.0 L297.4,130.5 L297.6,129.0 L297.9,127.5 L298.1,126.0 L298.3,124.5 L298.5,123.0 L298.8,121.6 L299.0,120.1 L299.2,118.6 L299.4,117.1 L299.6,115.6 L299.9,114.1 L300.1,112.6 L300.3,111.1 L300.5,109.6 L300.8,108.1 L301.0,106.6 L301.2,105.1 L301.4,103.7 L301.6,102.2 L301.9,100.7 L302.1,99.2 L302.3,97.7 L302.5,96.2 L302.8,94.7 L303.0,93.2 L303.2,91.7 L303.5,90.3 L303.7,88.8 L303.9,87.3 L304.1,85.8 L304.4,84.3 L304.6,82.8 L304.8,81.3 L305.1,79.9 L305.3,78.4 L305.6,76.9 L305.8,75.4 L306.0,73.9 L306.3,72.4 L306.5,71.0 L306.8,69.5 L307.0,68.0 L307.2,66.4 L307.4,64.9 L307.7,63.3 L307.9,61.7 L308.1,60.0 L308.3,58.4 L308.5,56.8 L308.8,55.3 L309.0,53.7 L309.2,52.2 L309.4,50.7 L309.6,49.3 L309.8,48.0 L310.1,46.2 L310.3,44.5 L310.5,42.9 L310.8,41.3 L311.0,39.8 L311.2,38.3 L311.5,37.0 L311.8,35.4 L312.1,33.9 L312.4,32.6 L313.0,31.5 L313.6,30.8 L314.3,30.3 L315.1,29.9 L316.0,29.5 L317.6,29.1 L319.4,28.7 L321.3,28.6 L323.2,28.6 L324.7,28.7 L326.3,28.9 L327.8,29.3 L329.2,29.8 L330.5,30.5 L331.7,31.6 L332.7,33.1 L333.6,34.7 L334.5,36.5 L335.0,37.7 L335.5,39.1 L336.0,40.6 L336.5,42.1 L336.9,43.7 L337.3,45.3 L337.7,46.9 L338.2,48.4 L338.6,49.8 L339.1,51.3 L339.6,52.8 L340.1,54.3 L340.6,55.7 L341.1,57.1 L341.6,58.6 L342.0,60.0 L342.5,61.7 L342.9,63.3 L343.3,65.0 L343.7,66.7 L344.1,68.3 L344.5,70.0 L344.8,71.5 L345.0,73.0 L345.3,74.5 L345.5,76.0 L345.8,77.4 L346.1,78.9 L346.3,80.4 L346.6,81.9 L346.8,83.4 L347.1,84.9 L347.3,86.5 L347.5,88.0 L347.7,89.5 L347.9,91.0 L348.0,92.6 L348.2,94.1 L348.4,95.7 L348.5,97.2 L348.7,98.8 L348.8,100.4 L348.9,101.9 L349.0,103.5 L349.1,105.0 L349.2,106.5 L349.3,108.0 L349.4,109.6 L349.4,111.2 L349.5,112.7 L349.5,114.2 L349.5,115.7 L349.5,117.3 L349.6,118.8 L349.6,120.3 L349.6,121.8 L349.6,123.4 L349.6,125.0 L349.6,126.5 L349.6,128.0 L349.6,129.5 L349.7,131.0 L349.7,132.5 L349.7,134.0 L349.7,135.6 L349.7,137.1 L349.7,138.7 L349.7,140.3 L349.7,141.8 L349.8,143.4 L349.8,145.0 L349.8,146.5 L349.9,148.0 L349.9,149.4 L349.9,150.9 L350.0,152.4 L350.0,153.9 L350.0,155.5 L350.1,157.0 L350.1,158.5 L350.2,160.1 L350.2,161.6 L350.3,163.2 L350.4,164.8 L350.5,166.4 L350.6,168.0 L350.7,169.4 L350.8,170.8 L350.9,172.3 L351.1,173.7 L351.2,175.2 L351.3,176.7 L351.5,178.2 L351.6,179.7 L351.8,181.2 L352.0,182.8 L352.1,184.3 L352.3,185.8 L352.5,187.3 L352.6,188.9 L352.8,190.4 L353.0,191.9 L353.1,193.5 L353.3,195.0 L353.4,196.5 L353.6,198.0 L353.8,199.5 L354.0,201.0 L354.2,202.5 L354.4,204.0 L354.6,205.5 L354.8,207.0 L355.0,208.5 L355.2,210.0 L355.5,211.4 L355.7,212.9 L355.9,214.4 L356.2,215.9 L356.4,217.4 L356.7,218.9 L356.9,220.4 L357.2,221.9 L357.5,223.3 L357.7,224.8 L358.0,226.3 L358.3,227.8 L358.6,229.3 L358.8,230.8 L359.1,232.2 L359.4,233.7 L359.7,235.2 L360.0,236.7 L360.4,238.1 L360.7,239.6 L361.0,241.1 L361.3,242.6 L361.6,244.0 L362.0,245.5 L362.3,247.0 L362.7,248.4 L363.0,249.9 L363.3,251.4 L363.7,252.8 L364.1,254.3 L364.4,255.8 L364.8,257.2 L365.2,258.7 L365.5,260.1 L365.9,261.6 L366.3,263.1 L366.7,264.5 L367.1,266.0 L367.5,267.4 L367.9,268.9 L368.3,270.3 L368.7,271.8 L369.1,273.2 L369.6,274.7 L370.0,276.1 L370.4,277.6 L370.9,279.0 L371.3,280.4 L371.7,281.9 L372.2,283.3 L372.6,284.8 L373.1,286.2 L373.6,287.6 L374.0,289.1 L374.5,290.5 L375.0,291.9 L375.4,293.4 L375.9,294.8 L376.4,296.2 L376.9,297.6 L377.4,299.1 L377.9,300.5 L378.4,301.9 L378.9,303.3 L379.4,304.7 L379.9,306.2 L380.4,307.6 L381.0,309.0 L381.5,310.4 L382.0,311.8 L382.6,313.2 L383.1,314.6 L383.7,316.0 L384.2,317.4 L384.8,318.8 L385.3,320.2 L385.9,321.6 L386.4,323.0 L387.0,324.4 L387.6,325.8 L388.2,327.2 L388.8,328.6 L389.3,330.0 L389.9,331.4 L390.5,332.8 L391.1,334.1 L391.7,335.5 L392.3,336.9 L392.9,338.3 L393.6,339.7 L394.2,341.0 L394.8,342.4 L395.4,343.8 L396.1,345.1 L396.7,346.5 L397.3,347.9 L398.0,349.2 L398.6,350.6 L399.3,352.0 L399.9,353.3 L400.6,354.7 L401.3,356.0 L401.9,357.4 L402.6,358.7 L403.3,360.1 L404.0,361.4 L404.6,362.8 L405.3,364.1 L406.0,365.4 L406.7,366.8 L407.4,368.1 L408.1,369.5 L408.8,370.8 L409.5,372.1 L410.2,373.4 L411.0,374.8 L411.7,376.1 L412.4,377.4 L413.1,378.7 L413.9,380.1 L414.6,381.4 L415.4,382.7 L416.1,384.0 L416.8,385.3 L417.6,386.6 L418.4,387.9 L419.1,389.2 L419.9,390.5 L420.7,391.8 L421.4,393.1 L422.2,394.4 L423.0,395.7 L423.8,397.0 L424.5,398.3 L425.3,399.5 L426.1,400.8 L426.9,402.1 L427.7,403.4 L428.5,404.7 L429.3,405.9 L430.2,407.2 L431.0,408.5 L431.8,409.7 L432.6,411.0 L433.5,412.3 L434.3,413.5 L435.1,414.8 L436.0,416.0 L436.8,417.3 L437.6,418.5 L438.5,419.8 L439.3,421.0 L440.2,422.3 L441.1,423.5 L441.9,424.7 L442.8,426.0 L443.7,427.2 L444.5,428.4 L445.4,429.6 L446.3,430.9 L447.2,432.1 L448.1,433.3 L449.0,434.5 L449.9,435.7 L450.8,436.9 L451.7,438.1 L452.6,439.4 L453.5,440.6 L454.4,441.8 L455.3,442.9 L456.2,444.1 L457.2,445.3 L458.1,446.5 L459.0,447.7 L460.0,448.9 L460.9,450.1 L461.8,451.2 L462.8,452.4 L463.7,453.6 L464.7,454.8 L465.6,455.9 L466.6,457.1 L467.6,458.2 L468.5,459.4 L469.5,460.6 L470.5,461.7 L471.5,462.9 L472.4,464.0 L473.4,465.1 L474.4,466.3 L475.4,467.4 L476.4,468.6 L477.4,469.7 L478.4,470.8 L479.4,471.9 L480.4,473.1 L481.4,474.2 L482.4,475.3 L483.4,476.4 L484.4,477.5 L485.5,478.6 L486.5,479.7 L487.5,480.8 L488.6,481.9 L489.6,483.0 L490.6,484.1 L491.7,485.2 L492.7,486.3 L493.8,487.4 L494.8,488.5 L495.9,489.5 L496.9,490.6 L498.0,491.7 L499.1,492.7 L500.1,493.8 L501.2,494.9 L502.3,495.9 L503.4,497.0 L504.4,498.0 L505.5,499.1 L506.6,500.1 L507.7,501.2 L508.8,502.2 L509.9,503.2 L511.0,504.3 L512.1,505.3 L513.2,506.3 L514.3,507.3 L515.4,508.3 L516.5,509.4 L517.7,510.4 L518.8,511.4 L519.9,512.4 L521.0,513.4 L522.2,514.4 L523.3,515.4 L524.4,516.4 L525.6,517.3 L526.7,518.3 L527.9,519.3 L529.0,520.3 L530.2,521.3 L531.3,522.2 L532.5,523.2 L533.6,524.1 L534.8,525.1 L536.0,526.1 L537.1,527.0 L538.3,528.0 L539.5,528.9 L540.7,529.8 L541.8,530.8 L543.0,531.7 L544.2,532.6 L545.4,533.6 L546.6,534.5 L547.8,535.4 L549.0,536.3 L550.2,537.2 L551.4,538.1 L552.6,539.0 L553.8,539.9 L555.0,540.8 L556.2,541.7 L557.5,542.6 L558.7,543.5 L559.9,544.4 L561.1,545.3 L562.4,546.1 L563.6,547.0" fill="none" stroke="#00b050" stroke-width="3.0" stroke-linejoin="round"/>
<path d="M116.3,561.3 L117.2,560.1 L118.2,559.0 L119.1,557.8 L120.1,556.6 L121.0,555.5 L122.0,554.3 L122.9,553.1 L123.8,551.9 L124.8,550.8 L125.7,549.6 L126.6,548.4 L127.6,547.2 L128.5,546.0 L129.4,544.8 L130.3,543.6 L131.3,542.5 L132.2,541.3 L133.1,540.1 L134.0,538.9 L134.9,537.7 L135.8,536.5 L136.7,535.3 L137.6,534.1 L138.5,532.9 L139.4,531.7 L140.3,530.5 L141.2,529.3 L142.1,528.1 L143.0,526.8 L143.9,525.6 L144.8,524.4 L145.7,523.2 L146.6,522.0 L147.5,520.8 L148.4,519.5 L149.2,518.3 L150.1,517.1 L151.0,515.9 L151.9,514.6 L152.7,513.4 L153.6,512.2 L154.5,511.0 L155.3,509.7 L156.2,508.5 L157.1,507.3 L157.9,506.0 L158.8,504.8 L159.6,503.5 L160.5,502.3 L161.3,501.0 L162.2,499.8 L163.0,498.6 L163.9,497.3 L164.7,496.1 L165.5,494.8 L166.4,493.6 L167.2,492.3 L168.0,491.0 L168.9,489.8 L169.7,488.5 L170.5,487.3 L171.4,486.0 L172.2,484.7 L173.0,483.5 L173.8,482.2 L174.6,480.9 L175.4,479.7 L176.2,478.4 L177.1,477.1 L177.9,475.9 L178.7,474.6 L179.5,473.3 L180.3,472.0 L181.1,470.8 L181.9,469.5 L182.6,468.2 L183.4,466.9 L184.2,465.6 L185.0,464.3 L185.8,463.1 L186.6,461.8 L187.3,460.5 L188.1,459.2 L188.9,457.9 L189.7,456.6 L190.4,455.3 L191.2,454.0 L192.0,452.7 L192.7,451.4 L193.5,450.1 L194.2,448.8 L195.0,447.5 L195.7,446.2 L196.5,444.9 L197.2,443.6 L198.0,442.3 L198.7,441.0 L199.5,439.6 L200.2,438.3 L200.9,437.0 L201.7,435.7 L202.4,434.4 L203.1,433.1 L203.8,431.8 L204.6,430.4 L205.3,429.1 L206.0,427.8 L206.7,426.5 L207.4,425.1 L208.1,423.8 L208.8,422.5 L209.5,421.1 L210.2,419.8 L210.9,418.5 L211.6,417.1 L212.3,415.8 L213.0,414.5 L213.7,413.1 L214.4,411.8 L215.1,410.5 L215.8,409.1 L216.4,407.8 L217.1,406.4 L217.8,405.1 L218.5,403.7 L219.1,402.4 L219.8,401.0 L220.5,399.7 L221.1,398.3 L221.8,397.0 L222.4,395.6 L223.1,394.3 L223.7,392.9 L224.4,391.6 L225.0,390.2 L225.7,388.8 L226.3,387.5 L226.9,386.1 L227.6,384.8 L228.2,383.4 L228.8,382.0 L229.4,380.7 L230.1,379.3 L230.7,377.9 L231.3,376.5 L231.9,375.2 L232.5,373.8 L233.1,372.4 L233.7,371.1 L234.3,369.7 L234.9,368.3 L235.5,366.9 L236.1,365.5 L236.7,364.2 L237.3,362.8 L237.9,361.4 L238.5,360.0 L239.1,358.6 L239.7,357.2 L240.2,355.8 L240.8,354.5 L241.4,353.1 L241.9,351.7 L242.5,350.3 L243.1,348.9 L243.6,347.5 L244.2,346.1 L244.7,344.7 L245.3,343.3 L245.8,341.9 L246.4,340.5 L246.9,339.1 L247.5,337.7 L248.0,336.3 L248.6,334.9 L249.1,333.5 L249.6,332.1 L250.2,330.7 L250.7,329.3 L251.2,327.9 L251.7,326.5 L252.2,325.1 L252.8,323.6 L253.3,322.2 L253.8,320.8 L254.3,319.4 L254.8,318.0 L255.3,316.6 L255.8,315.2 L256.3,313.7 L256.8,312.3 L257.3,310.9 L257.8,309.5 L258.3,308.1 L258.8,306.6 L259.2,305.2 L259.7,303.8 L260.2,302.4 L260.7,300.9 L261.1,299.5 L261.6,298.1 L262.1,296.7 L262.5,295.2 L263.0,293.8 L263.5,292.4 L263.9,290.9 L264.4,289.5 L264.8,288.1 L265.3,286.6 L265.7,285.2 L266.2,283.8 L266.6,282.3 L267.1,280.9 L267.5,279.5 L267.9,278.0 L268.4,276.6 L268.8,275.1 L269.2,273.7 L269.6,272.3 L270.1,270.8 L270.5,269.4 L270.9,267.9 L271.3,266.5 L271.7,265.0 L272.1,263.6 L272.5,262.1 L272.9,260.7 L273.3,259.2 L273.7,257.8 L274.1,256.3 L274.5,254.9 L274.9,253.4 L275.3,252.0 L275.7,250.5 L276.1,249.1 L276.5,247.6 L276.9,246.2 L277.2,244.7 L277.6,243.3 L278.0,241.8 L278.3,240.3 L278.7,238.9 L279.1,237.4 L279.4,236.0 L279.8,234.5 L280.2,233.0 L280.5,231.6 L280.9,230.1 L281.2,228.6 L281.6,227.2 L281.9,225.7 L282.3,224.3 L282.6,222.8 L282.9,221.3 L283.3,219.9 L283.6,218.4 L283.9,216.9 L284.3,215.5 L284.6,214.0 L284.9,212.5 L285.3,211.0 L285.6,209.6 L285.9,208.1 L286.2,206.6 L286.5,205.2 L286.8,203.7 L287.1,202.2 L287.5,200.7 L287.8,199.3 L288.1,197.8 L288.4,196.3 L288.7,194.8 L289.0,193.4 L289.3,191.9 L289.6,190.4 L289.9,188.9 L290.1,187.5 L290.4,186.0 L290.7,184.5 L291.0,183.0 L291.3,181.5 L291.6,180.1 L291.8,178.6 L292.1,177.1 L292.4,175.6 L292.7,174.1 L292.9,172.7 L293.2,171.2 L293.5,169.7 L293.8,168.2 L294.0,166.7 L294.3,165.2 L294.5,163.8 L294.8,162.3 L295.1,160.8 L295.3,159.3 L295.6,157.8 L295.8,156.3 L296.1,154.9 L296.3,153.4 L296.6,151.9 L296.8,150.4 L297.1,148.9 L297.3,147.4 L297.6,145.9 L297.8,144.4 L298.0,143.0 L298.3,141.5 L298.5,140.0 L298.8,138.5 L299.0,137.0 L299.2,135.5 L299.5,134.0 L299.7,132.5 L299.9,131.1 L300.1,129.6 L300.4,128.1 L300.6,126.6 L300.8,125.1 L301.0,123.6 L301.3,122.1 L301.5,120.6 L301.7,119.1 L301.9,117.7 L302.1,116.2 L302.4,114.7 L302.6,113.2 L302.8,111.7 L303.0,110.2 L303.2,108.7 L303.4,107.2 L303.6,105.7 L303.8,104.3 L304.0,102.8 L304.2,101.3 L304.5,99.8 L304.7,98.3 L304.9,96.8 L305.1,95.3 L305.3,93.8 L305.5,92.3 L305.7,90.8 L305.9,89.4 L306.1,87.9 L306.3,86.4 L306.5,84.9 L306.7,83.4 L306.9,81.9 L307.0,80.4 L307.2,78.9 L307.4,77.4 L307.6,76.0 L307.8,74.5 L308.0,73.0 L308.2,71.5 L308.4,70.0 L308.7,68.4 L308.9,66.8 L309.2,65.2 L309.4,63.6 L309.7,62.0 L310.0,60.4 L310.2,58.8 L310.5,57.2 L310.8,55.8 L311.0,54.3 L311.3,53.0 L311.7,51.3 L312.0,49.7 L312.3,48.2 L312.7,46.7 L313.1,45.3 L313.6,44.0 L314.3,42.4 L315.0,41.0 L315.9,39.6 L317.0,38.5 L318.3,37.6 L319.8,36.9 L321.5,36.3 L323.2,35.9 L324.8,35.8 L326.4,36.0 L328.1,36.4 L329.7,37.0 L331.2,37.8 L332.5,38.8 L333.5,39.9 L334.2,41.3 L334.8,42.8 L335.4,44.4 L335.9,46.0 L336.4,47.5 L336.9,49.1 L337.3,50.8 L337.7,52.5 L338.1,54.2 L338.5,56.0 L338.9,57.5 L339.2,59.0 L339.6,60.5 L340.0,62.1 L340.4,63.6 L340.8,65.2 L341.1,66.8 L341.5,68.4 L341.9,70.0 L342.3,71.5 L342.6,73.1 L343.0,74.6 L343.4,76.1 L343.7,77.7 L344.1,79.2 L344.5,80.8 L344.8,82.3 L345.2,83.8 L345.5,85.4 L345.9,86.9 L346.2,88.5 L346.5,90.0 L346.8,91.5 L347.1,93.1 L347.4,94.6 L347.7,96.1 L348.0,97.7 L348.2,99.2 L348.5,100.8 L348.7,102.3 L349.0,103.8 L349.2,105.4 L349.4,106.9 L349.6,108.5 L349.8,110.0 L350.0,111.5 L350.1,113.1 L350.2,114.6 L350.3,116.1 L350.4,117.7 L350.5,119.2 L350.6,120.8 L350.6,122.3 L350.7,123.8 L350.7,125.4 L350.8,126.9 L350.8,128.5 L350.9,130.0 L351.0,131.5 L351.0,133.1 L351.0,134.6 L351.1,136.2 L351.1,137.7 L351.1,139.2 L351.1,140.8 L351.2,142.3 L351.2,143.8 L351.2,145.4 L351.2,146.9 L351.3,148.5 L351.3,150.0 L351.3,151.5 L351.4,153.0 L351.4,154.5 L351.5,156.0 L351.5,157.5 L351.5,159.0 L351.6,160.5 L351.6,162.1 L351.7,163.6 L351.7,165.2 L351.8,166.7 L351.9,168.4 L352.0,170.0 L352.1,171.4 L352.2,172.9 L352.3,174.4 L352.4,175.9 L352.5,177.4 L352.7,179.0 L352.8,180.6 L352.9,182.1 L353.1,183.7 L353.2,185.3 L353.4,186.9 L353.5,188.5 L353.7,190.1 L353.8,191.7 L354.0,193.3 L354.1,194.9 L354.3,196.4 L354.4,198.0 L354.6,199.5 L354.7,201.0 L354.9,202.5 L355.1,204.0 L355.3,205.5 L355.5,207.0 L355.7,208.5 L355.9,210.0 L356.1,211.5 L356.3,213.0 L356.5,214.5 L356.7,216.0 L356.9,217.5 L357.2,219.0 L357.4,220.5 L357.6,221.9 L357.9,223.4 L358.1,224.9 L358.4,226.4 L358.6,227.9 L358.9,229.4 L359.1,230.9 L359.4,232.3 L359.7,233.8 L360.0,235.3 L360.2,236.8 L360.5,238.3 L360.8,239.8 L361.1,241.2 L361.4,242.7 L361.7,244.2 L362.1,245.7 L362.4,247.1 L362.7,248.6 L363.0,250.1 L363.3,251.6 L363.7,253.0 L364.0,254.5 L364.4,256.0 L364.7,257.4 L365.1,258.9 L365.4,260.4 L365.8,261.8 L366.1,263.3 L366.5,264.7 L366.9,266.2 L367.3,267.7 L367.7,269.1 L368.0,270.6 L368.4,272.0 L368.8,273.5 L369.2,274.9 L369.6,276.4 L370.1,277.8 L370.5,279.3 L370.9,280.7 L371.3,282.2 L371.7,283.6 L372.2,285.1 L372.6,286.5 L373.1,288.0 L373.5,289.4 L374.0,290.8 L374.4,292.3 L374.9,293.7 L375.3,295.1 L375.8,296.6 L376.3,298.0 L376.8,299.4 L377.2,300.9 L377.7,302.3 L378.2,303.7 L378.7,305.1 L379.2,306.6 L379.7,308.0 L380.2,309.4 L380.7,310.8 L381.2,312.2 L381.8,313.7 L382.3,315.1 L382.8,316.5 L383.3,317.9 L383.9,319.3 L384.4,320.7 L385.0,322.1 L385.5,323.5 L386.1,324.9 L386.6,326.3 L387.2,327.7 L387.7,329.1 L388.3,330.5 L388.9,331.9 L389.5,333.3 L390.1,334.7 L390.6,336.1 L391.2,337.5 L391.8,338.9 L392.4,340.2 L393.0,341.6 L393.6,343.0 L394.2,344.4 L394.9,345.8 L395.5,347.1 L396.1,348.5 L396.7,349.9 L397.4,351.2 L398.0,352.6 L398.6,354.0 L399.3,355.3 L399.9,356.7 L400.6,358.1 L401.2,359.4 L401.9,360.8 L402.6,362.1 L403.2,363.5 L403.9,364.8 L404.6,366.2 L405.2,367.5 L405.9,368.9 L406.6,370.2 L407.3,371.6 L408.0,372.9 L408.7,374.2 L409.4,375.6 L410.1,376.9 L410.8,378.2 L411.5,379.6 L412.3,380.9 L413.0,382.2 L413.7,383.5 L414.4,384.9 L415.2,386.2 L415.9,387.5 L416.6,388.8 L417.4,390.1 L418.1,391.4 L418.9,392.7 L419.6,394.0 L420.4,395.3 L421.2,396.6 L421.9,397.9 L422.7,399.2 L423.5,400.5 L424.3,401.8 L425.1,403.1 L425.8,404.4 L426.6,405.7 L427.4,407.0 L428.2,408.3 L429.0,409.5 L429.8,410.8 L430.6,412.1 L431.4,413.4 L432.3,414.6 L433.1,415.9 L433.9,417.2 L434.7,418.4 L435.6,419.7 L436.4,420.9 L437.2,422.2 L438.1,423.4 L438.9,424.7 L439.8,425.9 L440.6,427.2 L441.5,428.4 L442.3,429.7 L443.2,430.9 L444.1,432.1 L444.9,433.4 L445.8,434.6 L446.7,435.8 L447.6,437.0 L448.5,438.3 L449.4,439.5 L450.2,440.7 L451.1,441.9 L452.0,443.1 L452.9,444.3 L453.8,445.5 L454.8,446.8 L455.7,448.0 L456.6,449.2 L457.5,450.3 L458.4,451.5 L459.4,452.7 L460.3,453.9 L461.2,455.1 L462.2,456.3 L463.1,457.5 L464.0,458.6 L465.0,459.8 L465.9,461.0 L466.9,462.2 L467.8,463.3 L468.8,464.5 L469.8,465.6 L470.7,466.8 L471.7,468.0 L472.7,469.1 L473.7,470.3 L474.6,471.4 L475.6,472.6 L476.6,473.7 L477.6,474.8 L478.6,476.0 L479.6,477.1 L480.6,478.2 L481.6,479.4 L482.6,480.5 L483.6,481.6 L484.6,482.7 L485.6,483.8 L486.7,484.9 L487.7,486.0 L488.7,487.1 L489.7,488.2 L490.8,489.3 L491.8,490.4 L492.8,491.5 L493.9,492.6 L494.9,493.7 L496.0,494.8 L497.0,495.9 L498.1,497.0 L499.1,498.0 L500.2,499.1 L501.3,500.2 L502.3,501.2 L503.4,502.3 L504.5,503.4 L505.6,504.4 L506.6,505.5 L507.7,506.5 L508.8,507.6 L509.9,508.6 L511.0,509.6 L512.1,510.7 L513.2,511.7 L514.3,512.7 L515.4,513.8 L516.5,514.8 L517.6,515.8 L518.7,516.8 L519.8,517.8 L520.9,518.8 L522.1,519.8 L523.2,520.8 L524.3,521.8 L525.4,522.8 L526.6,523.8 L527.7,524.8 L528.9,525.8 L530.0,526.8 L531.1,527.8 L532.3,528.7 L533.4,529.7 L534.6,530.7 L535.8,531.6 L536.9,532.6 L538.1,533.6 L539.2,534.5 L540.4,535.5 L541.6,536.4 L542.8,537.4 L543.9,538.3 L545.1,539.2 L546.3,540.2 L547.5,541.1 L548.7,542.0 L549.9,542.9 L551.1,543.9 L552.3,544.8 L553.5,545.7 L554.7,546.6 L555.9,547.5 L557.1,548.4 L558.3,549.3 L559.5,550.2 L560.7,551.1" fill="none" stroke="#00b050" stroke-width="3.0" stroke-linejoin="round" stroke-dasharray="5.6 3.8"/>
<path d="M119.5,560.5 L120.1,559.1 L120.6,557.7 L121.2,556.3 L121.8,554.9 L122.3,553.5 L122.9,552.1 L123.4,550.7 L124.0,549.3 L124.5,547.9 L125.1,546.5 L125.7,545.1 L126.2,543.7 L126.8,542.3 L127.3,540.9 L127.8,539.5 L128.4,538.1 L128.9,536.7 L129.5,535.3 L130.0,533.9 L130.6,532.5 L131.1,531.0 L131.6,529.6 L132.2,528.2 L132.7,526.8 L133.2,525.4 L133.8,524.0 L134.3,522.6 L134.8,521.2 L135.3,519.8 L135.9,518.4 L136.4,516.9 L136.9,515.5 L137.4,514.1 L138.0,512.7 L138.5,511.3 L139.0,509.9 L139.5,508.5 L140.0,507.0 L140.5,505.6 L141.1,504.2 L141.6,502.8 L142.1,501.4 L142.6,499.9 L143.1,498.5 L143.6,497.1 L144.1,495.7 L144.6,494.3 L145.1,492.8 L145.6,491.4 L146.1,490.0 L146.6,488.6 L147.1,487.2 L147.6,485.7 L148.1,484.3 L148.6,482.9 L149.1,481.5 L149.6,480.0 L150.0,478.6 L150.5,477.2 L151.0,475.8 L151.5,474.3 L152.0,472.9 L152.5,471.5 L152.9,470.0 L153.4,468.6 L153.9,467.2 L154.4,465.8 L154.8,464.3 L155.3,462.9 L155.8,461.5 L156.3,460.0 L156.7,458.6 L157.2,457.2 L157.7,455.7 L158.1,454.3 L158.6,452.9 L159.1,451.4 L159.5,450.0 L160.0,448.6 L160.4,447.1 L160.9,445.7 L161.3,444.3 L161.8,442.8 L162.3,441.4 L162.7,439.9 L163.2,438.5 L163.6,437.1 L164.1,435.6 L164.5,434.2 L165.0,432.7 L165.4,431.3 L165.8,429.9 L166.3,428.4 L166.7,427.0 L167.2,425.5 L167.6,424.1 L168.0,422.7 L168.5,421.2 L168.9,419.8 L169.3,418.3 L169.8,416.9 L170.2,415.4 L170.6,414.0 L171.1,412.5 L171.5,411.1 L171.9,409.7 L172.3,408.2 L172.8,406.8 L173.2,405.3 L173.6,403.9 L174.0,402.4 L174.4,401.0 L174.9,399.5 L175.3,398.1 L175.7,396.6 L176.1,395.2 L176.5,393.7 L176.9,392.3 L177.3,390.8 L177.7,389.4 L178.2,387.9 L178.6,386.5 L179.0,385.0 L179.4,383.6 L179.8,382.1 L180.2,380.7 L180.6,379.2 L181.0,377.7 L181.4,376.3 L181.8,374.8 L182.2,373.4 L182.6,371.9 L182.9,370.5 L183.3,369.0 L183.7,367.6 L184.1,366.1 L184.5,364.6 L184.9,363.2 L185.3,361.7 L185.7,360.3 L186.0,358.8 L186.4,357.4 L186.8,355.9 L187.2,354.4 L187.6,353.0 L187.9,351.5 L188.3,350.1 L188.7,348.6 L189.1,347.1 L189.4,345.7 L189.8,344.2 L190.2,342.7 L190.6,341.3 L190.9,339.8 L191.3,338.4 L191.7,336.9 L192.0,335.4 L192.4,334.0 L192.7,332.5 L193.1,331.0 L193.5,329.6 L193.8,328.1 L194.2,326.6 L194.5,325.2 L194.9,323.7 L195.2,322.2 L195.6,320.8 L196.0,319.3 L196.3,317.8 L196.7,316.4 L197.0,314.9 L197.4,313.4 L197.7,312.0 L198.0,310.5 L198.4,309.0 L198.7,307.6 L199.1,306.1 L199.4,304.6 L199.7,303.2 L200.1,301.7 L200.4,300.2 L200.8,298.7 L201.1,297.3 L201.4,295.8 L201.8,294.3 L202.1,292.9 L202.4,291.4 L202.8,289.9 L203.1,288.4 L203.4,287.0 L203.7,285.5 L204.1,284.0 L204.4,282.5 L204.7,281.1 L205.0,279.6 L205.3,278.1 L205.7,276.6 L206.0,275.2 L206.3,273.7 L206.6,272.2 L206.9,270.7 L207.2,269.3 L207.6,267.8 L207.9,266.3 L208.2,264.8 L208.5,263.4 L208.8,261.9 L209.1,260.4 L209.4,258.9 L209.7,257.5 L210.0,256.0 L210.3,254.5 L210.6,253.0 L210.9,251.5 L211.2,250.1 L211.5,248.6 L211.8,247.1 L212.1,245.6 L212.4,244.1 L212.7,242.7 L213.0,241.2 L213.3,239.7 L213.6,238.2 L213.9,236.7 L214.2,235.3 L214.5,233.8 L214.7,232.3 L215.0,230.8 L215.3,229.3 L215.6,227.9 L215.9,226.4 L216.2,224.9 L216.5,223.4 L216.7,221.9 L217.0,220.4 L217.3,219.0 L217.6,217.5 L217.8,216.0 L218.1,214.5 L218.4,213.0 L218.7,211.5 L218.9,210.1 L219.2,208.6 L219.5,207.1 L219.7,205.6 L220.0,204.1 L220.3,202.6 L220.5,201.1 L220.8,199.7 L221.1,198.2 L221.3,196.7 L221.6,195.2 L221.9,193.7 L222.1,192.2 L222.4,190.7 L222.6,189.3 L222.9,187.8 L223.2,186.3 L223.4,184.8 L223.7,183.3 L223.9,181.8 L224.2,180.3 L224.4,178.9 L224.7,177.4 L224.9,175.9 L225.2,174.4 L225.4,172.9 L225.7,171.4 L225.9,169.9 L226.1,168.4 L226.4,166.9 L226.6,165.5 L226.9,164.0 L227.1,162.5 L227.4,161.0 L227.6,159.5 L227.8,158.0 L228.1,156.5 L228.3,155.0 L228.5,153.5 L228.8,152.1 L229.0,150.6 L229.2,149.1 L229.5,147.6 L229.7,146.1 L229.9,144.6 L230.2,143.1 L230.4,141.6 L230.6,140.1 L230.8,138.6 L231.1,137.2 L231.3,135.7 L231.5,134.2 L231.7,132.7 L231.9,131.2 L232.2,129.7 L232.4,128.2 L232.6,126.7 L232.8,125.2 L233.0,123.7 L233.2,122.2 L233.5,120.8 L233.7,119.3 L233.9,117.8 L234.1,116.3 L234.3,114.8 L234.5,113.3 L234.7,111.8 L234.9,110.3 L235.1,108.8 L235.3,107.3 L235.5,105.8 L235.8,104.3 L236.0,102.8 L236.2,101.4 L236.4,99.9 L236.6,98.4 L236.8,96.9 L237.0,95.4 L237.2,93.9 L237.4,92.4 L237.5,90.9 L237.7,89.4 L237.9,87.9 L238.1,86.4 L238.3,84.9 L238.5,83.4 L238.7,81.9 L238.9,80.5 L239.1,79.0 L239.3,77.5 L239.5,76.0 L239.6,74.5 L239.8,73.0 L240.0,71.5 L240.2,70.0 L240.3,68.4 L240.4,66.8 L240.5,65.2 L240.5,63.5 L240.6,61.9 L240.7,60.2 L240.7,58.6 L240.8,57.0 L240.9,55.5 L241.1,54.0 L241.2,52.6 L241.4,51.2 L241.6,50.0 L242.0,48.1 L242.4,46.4 L242.8,44.8 L243.4,43.4 L244.2,42.0 L245.1,40.8 L246.2,39.7 L247.4,38.6 L248.7,37.7 L250.0,37.0 L251.4,36.4 L253.0,35.9 L254.6,35.6 L256.2,35.4 L257.8,35.4 L259.7,35.6 L261.5,36.0 L263.3,36.5 L265.0,37.3 L266.6,38.3 L268.0,39.5 L269.4,40.8 L270.6,42.1 L271.6,43.4 L272.6,44.7 L273.4,46.0 L274.2,47.5 L274.8,48.9 L275.3,50.2 L275.7,51.7 L276.0,53.3 L276.4,55.0 L276.6,56.3 L276.8,57.7 L277.0,59.1 L277.2,60.6 L277.3,62.2 L277.4,63.7 L277.6,65.3 L277.7,66.9 L277.8,68.5 L278.0,70.0 L313.6,288.5 L427.4,555.4" fill="none" stroke="#ec680a" stroke-width="3.0" stroke-linejoin="round"/>
<path d="M118.2,561.5 L118.7,560.1 L119.3,558.7 L119.8,557.3 L120.4,555.9 L120.9,554.5 L121.5,553.1 L122.0,551.7 L122.5,550.2 L123.1,548.8 L123.6,547.4 L124.1,546.0 L124.7,544.6 L125.2,543.2 L125.7,541.8 L126.2,540.4 L126.8,539.0 L127.3,537.5 L127.8,536.1 L128.3,534.7 L128.9,533.3 L129.4,531.9 L129.9,530.5 L130.4,529.1 L130.9,527.6 L131.5,526.2 L132.0,524.8 L132.5,523.4 L133.0,522.0 L133.5,520.6 L134.0,519.1 L134.5,517.7 L135.0,516.3 L135.5,514.9 L136.0,513.5 L136.5,512.0 L137.0,510.6 L137.5,509.2 L138.0,507.8 L138.5,506.4 L139.0,504.9 L139.5,503.5 L140.0,502.1 L140.5,500.7 L141.0,499.2 L141.5,497.8 L142.0,496.4 L142.5,495.0 L143.0,493.5 L143.5,492.1 L144.0,490.7 L144.4,489.2 L144.9,487.8 L145.4,486.4 L145.9,485.0 L146.4,483.5 L146.9,482.1 L147.3,480.7 L147.8,479.2 L148.3,477.8 L148.8,476.4 L149.2,474.9 L149.7,473.5 L150.2,472.1 L150.7,470.7 L151.1,469.2 L151.6,467.8 L152.1,466.3 L152.5,464.9 L153.0,463.5 L153.4,462.0 L153.9,460.6 L154.4,459.2 L154.8,457.7 L155.3,456.3 L155.7,454.9 L156.2,453.4 L156.7,452.0 L157.1,450.5 L157.6,449.1 L158.0,447.7 L158.5,446.2 L158.9,444.8 L159.4,443.3 L159.8,441.9 L160.3,440.5 L160.7,439.0 L161.1,437.6 L161.6,436.1 L162.0,434.7 L162.5,433.3 L162.9,431.8 L163.3,430.4 L163.8,428.9 L164.2,427.5 L164.6,426.0 L165.1,424.6 L165.5,423.1 L165.9,421.7 L166.4,420.2 L166.8,418.8 L167.2,417.4 L167.7,415.9 L168.1,414.5 L168.5,413.0 L168.9,411.6 L169.3,410.1 L169.8,408.7 L170.2,407.2 L170.6,405.8 L171.0,404.3 L171.4,402.9 L171.8,401.4 L172.3,400.0 L172.7,398.5 L173.1,397.1 L173.5,395.6 L173.9,394.1 L174.3,392.7 L174.7,391.2 L175.1,389.8 L175.5,388.3 L175.9,386.9 L176.3,385.4 L176.7,384.0 L177.1,382.5 L177.5,381.1 L177.9,379.6 L178.3,378.1 L178.7,376.7 L179.1,375.2 L179.5,373.8 L179.9,372.3 L180.3,370.9 L180.7,369.4 L181.1,367.9 L181.4,366.5 L181.8,365.0 L182.2,363.6 L182.6,362.1 L183.0,360.6 L183.4,359.2 L183.7,357.7 L184.1,356.3 L184.5,354.8 L184.9,353.3 L185.3,351.9 L185.6,350.4 L186.0,348.9 L186.4,347.5 L186.7,346.0 L187.1,344.6 L187.5,343.1 L187.8,341.6 L188.2,340.2 L188.6,338.7 L188.9,337.2 L189.3,335.8 L189.7,334.3 L190.0,332.8 L190.4,331.4 L190.7,329.9 L191.1,328.4 L191.5,327.0 L191.8,325.5 L192.2,324.0 L192.5,322.6 L192.9,321.1 L193.2,319.6 L193.6,318.2 L193.9,316.7 L194.3,315.2 L194.6,313.7 L195.0,312.3 L195.3,310.8 L195.6,309.3 L196.0,307.9 L196.3,306.4 L196.7,304.9 L197.0,303.5 L197.3,302.0 L197.7,300.5 L198.0,299.0 L198.3,297.6 L198.7,296.1 L199.0,294.6 L199.3,293.1 L199.7,291.7 L200.0,290.2 L200.3,288.7 L200.6,287.3 L201.0,285.8 L201.3,284.3 L201.6,282.8 L201.9,281.4 L202.3,279.9 L202.6,278.4 L202.9,276.9 L203.2,275.4 L203.5,274.0 L203.8,272.5 L204.1,271.0 L204.5,269.5 L204.8,268.1 L205.1,266.6 L205.4,265.1 L205.7,263.6 L206.0,262.2 L206.3,260.7 L206.6,259.2 L206.9,257.7 L207.2,256.2 L207.5,254.8 L207.8,253.3 L208.1,251.8 L208.4,250.3 L208.7,248.8 L209.0,247.4 L209.3,245.9 L209.6,244.4 L209.9,242.9 L210.2,241.4 L210.5,239.9 L210.8,238.5 L211.0,237.0 L211.3,235.5 L211.6,234.0 L211.9,232.5 L212.2,231.1 L212.5,229.6 L212.7,228.1 L213.0,226.6 L213.3,225.1 L213.6,223.6 L213.9,222.2 L214.1,220.7 L214.4,219.2 L214.7,217.7 L214.9,216.2 L215.2,214.7 L215.5,213.2 L215.8,211.8 L216.0,210.3 L216.3,208.8 L216.6,207.3 L216.8,205.8 L217.1,204.3 L217.3,202.8 L217.6,201.4 L217.9,199.9 L218.1,198.4 L218.4,196.9 L218.6,195.4 L218.9,193.9 L219.1,192.4 L219.4,190.9 L219.6,189.5 L219.9,188.0 L220.1,186.5 L220.4,185.0 L220.6,183.5 L220.9,182.0 L221.1,180.5 L221.4,179.0 L221.6,177.6 L221.9,176.1 L222.1,174.6 L222.3,173.1 L222.6,171.6 L222.8,170.1 L223.0,168.6 L223.3,167.1 L223.5,165.6 L223.8,164.1 L224.0,162.7 L224.2,161.2 L224.4,159.7 L224.7,158.2 L224.9,156.7 L225.1,155.2 L225.3,153.7 L225.6,152.2 L225.8,150.7 L226.0,149.2 L226.2,147.7 L226.5,146.2 L226.7,144.8 L226.9,143.3 L227.1,141.8 L227.3,140.3 L227.5,138.8 L227.8,137.3 L228.0,135.8 L228.2,134.3 L228.4,132.8 L228.6,131.3 L228.8,129.8 L229.0,128.3 L229.2,126.8 L229.4,125.3 L229.6,123.8 L229.8,122.4 L230.0,120.9 L230.2,119.4 L230.4,117.9 L230.6,116.4 L230.8,114.9 L231.0,113.4 L231.2,111.9 L231.4,110.4 L231.6,108.9 L231.8,107.4 L232.0,105.9 L232.2,104.4 L232.3,102.9 L232.5,101.4 L232.7,99.9 L232.9,98.4 L233.1,96.9 L233.3,95.4 L233.5,93.9 L233.6,92.4 L233.8,91.0 L234.0,89.5 L234.2,88.0 L234.3,86.5 L234.5,85.0 L234.7,83.5 L234.9,82.0 L235.0,80.5 L235.2,79.0 L235.4,77.5 L235.5,76.0 L235.7,74.5 L235.9,73.0 L236.0,71.5 L236.2,70.0 L236.3,68.5 L236.4,66.9 L236.5,65.3 L236.5,63.7 L236.6,62.1 L236.7,60.5 L236.8,58.9 L236.9,57.4 L237.0,55.9 L237.2,54.5 L237.4,53.2 L237.6,52.0 L238.0,50.3 L238.5,48.7 L239.0,47.3 L239.7,46.0 L240.4,44.8 L241.3,43.7 L242.2,42.8 L243.3,42.0 L244.4,41.4 L245.7,41.0 L247.1,40.8 L248.5,40.7 L250.0,40.6 L251.7,40.6 L253.4,40.7 L255.2,40.9 L256.8,41.1 L258.2,41.3 L259.5,41.6 L260.8,42.0 L262.0,42.5 L263.1,43.1 L264.1,43.8 L265.0,44.6 L265.9,45.5 L266.8,46.5 L267.7,47.6 L268.6,48.8 L269.3,50.0 L269.9,51.3 L270.5,52.8 L270.9,54.3 L271.3,56.0 L271.5,57.3 L271.7,58.7 L271.9,60.2 L272.0,61.8 L272.1,63.4 L272.2,65.1 L272.3,66.8 L272.5,68.4 L272.6,70.0 L309.2,290.5 L422.2,555.4" fill="none" stroke="#ec680a" stroke-width="3.0" stroke-linejoin="round" stroke-dasharray="5.6 3.8"/>
<path d="M1070.8,540.9 L1071.9,540.0 L1073.1,539.2 L1074.2,538.3 L1075.4,537.4 L1076.6,536.5 L1077.7,535.6 L1078.9,534.7 L1080.1,533.8 L1081.3,532.9 L1082.5,532.0 L1083.8,531.0 L1085.0,530.1 L1086.2,529.2 L1087.5,528.3 L1088.7,527.4 L1090.0,526.5 L1091.3,525.6 L1092.5,524.7 L1093.8,523.8 L1095.1,522.9 L1096.4,522.0 L1097.7,521.2 L1099.0,520.3 L1100.3,519.4 L1101.6,518.6 L1103.0,517.8 L1104.3,517.0 L1105.6,516.1 L1107.0,515.4 L1108.3,514.6 L1109.7,513.8 L1111.0,513.1 L1112.4,512.3 L1113.8,511.6 L1115.1,511.0 L1116.5,510.3 L1117.9,509.6 L1119.3,509.0 L1120.7,508.4 L1122.1,507.8 L1123.5,507.3 L1124.9,506.7 L1126.3,506.2 L1127.7,505.7 L1129.1,505.3 L1130.5,504.9 L1131.9,504.5 L1133.3,504.1 L1134.8,503.7 L1136.2,503.4 L1137.6,503.2 L1139.1,502.9 L1140.5,502.7 L1141.9,502.5 L1143.4,502.4 L1144.8,502.3 L1146.3,502.2 L1147.7,502.2 L1149.2,502.2 L1150.6,502.3 L1152.1,502.4 L1153.5,502.5 L1155.0,502.7 L1156.4,502.9 L1157.9,503.2 L1159.3,503.5 L1160.8,503.8 L1162.2,504.2 L1163.7,504.7 L1165.2,505.1 L1166.6,505.6 L1168.1,506.2 L1169.5,506.7 L1171.0,507.3 L1172.4,507.9 L1173.9,508.5 L1175.3,509.2 L1176.8,509.8 L1178.2,510.5 L1179.7,511.2 L1181.1,511.9 L1182.6,512.5 L1184.0,513.2 L1185.5,513.9 L1186.9,514.6 L1188.4,515.2 L1189.8,515.9 L1191.2,516.5 L1192.7,517.1 L1194.1,517.7 L1195.5,518.3 L1197.0,518.9 L1198.4,519.4 L1199.8,519.9 L1201.2,520.3 L1202.7,520.8 L1204.1,521.2 L1205.5,521.6 L1206.9,521.9 L1208.3,522.3 L1209.7,522.7 L1211.1,523.0 L1212.6,523.4 L1214.0,523.7 L1215.4,524.1 L1216.8,524.4 L1218.3,524.8 L1219.7,525.2 L1221.2,525.6 L1222.6,526.0 L1224.1,526.5 L1225.5,526.9 L1227.0,527.5 L1228.5,528.0 L1230.0,528.6 L1231.5,528.2 L1232.9,527.7 L1234.4,527.3 L1235.9,526.9 L1237.3,526.5 L1238.8,526.1 L1240.3,525.7 L1241.8,525.4 L1243.3,525.0 L1244.7,524.6 L1246.2,524.3 L1247.7,523.9 L1249.2,523.6 L1250.7,523.3 L1252.2,522.9 L1253.7,522.6 L1255.2,522.3 L1256.7,522.0 L1258.2,521.7 L1259.7,521.4 L1261.2,521.1 L1262.7,520.8 L1264.2,520.6 L1265.7,520.3 L1267.2,520.0 L1268.7,519.8 L1270.2,519.5 L1271.7,519.2 L1273.2,519.0 L1274.7,518.7 L1276.2,518.5 L1277.7,518.2 L1279.2,518.0 L1280.7,517.8 L1282.2,517.5 L1283.7,517.3 L1285.2,517.0 L1286.7,516.8 L1288.3,516.6 L1289.8,516.3 L1291.3,516.1 L1292.8,515.9 L1294.3,515.6 L1295.8,515.4 L1297.3,515.2 L1298.8,514.9 L1300.3,514.7 L1301.8,514.5 L1303.4,514.2 L1304.9,514.0 L1306.4,513.7 L1307.9,513.5 L1309.4,513.2 L1310.9,513.0 L1312.4,512.7 L1313.9,512.5 L1315.4,512.2 L1316.9,512.0 L1318.4,511.7 L1319.9,511.4 L1321.4,511.1 L1322.9,510.9 L1324.4,510.6 L1325.9,510.3 L1327.4,510.0 L1328.9,510.1 L1330.5,510.1 L1332.0,510.2 L1333.5,510.3 L1335.1,510.4 L1336.6,510.5 L1338.1,510.6 L1339.6,510.8 L1341.2,510.9 L1342.7,511.0 L1344.2,511.2 L1345.7,511.3 L1347.2,511.5 L1348.8,511.7 L1350.3,511.8 L1351.8,512.0 L1353.3,512.2 L1354.8,512.4 L1356.3,512.6 L1357.9,512.8 L1359.4,513.0 L1360.9,513.2 L1362.4,513.5 L1363.9,513.7 L1365.4,513.9 L1366.9,514.2 L1368.4,514.4 L1369.9,514.7 L1371.4,514.9 L1372.9,515.2 L1374.4,515.5 L1375.9,515.8 L1377.4,516.1 L1378.9,516.3 L1380.4,516.6 L1381.9,516.9 L1383.4,517.2 L1384.9,517.6 L1386.4,517.9 L1387.9,518.2 L1389.4,518.5 L1390.9,518.8 L1392.4,519.2 L1393.9,519.5 L1395.4,519.9 L1396.9,520.2 L1398.4,520.6 L1399.8,520.9 L1401.3,521.3 L1402.8,521.7 L1404.3,522.0 L1405.8,522.4 L1407.3,522.8 L1408.7,523.2 L1410.2,523.5 L1411.7,523.9 L1413.2,524.3 L1414.7,524.7 L1416.1,525.1 L1417.6,525.5 L1419.1,525.9 L1420.6,526.3 L1422.0,526.7 L1423.5,527.1 L1425.0,527.6 L1426.4,528.0 L1427.9,528.4 L1429.4,528.8 L1430.9,529.3 L1432.3,529.7 L1433.8,530.1 L1435.3,530.5 L1436.7,531.0 L1438.2,531.4 L1439.6,531.9 L1441.1,532.3 L1442.6,532.3 L1444.2,532.3 L1445.7,532.3 L1447.2,532.2 L1448.8,532.2 L1450.3,532.2 L1451.9,532.1 L1453.4,532.1 L1454.9,532.0 L1456.5,532.0 L1458.0,531.9 L1459.5,531.8 L1461.0,531.7 L1462.6,531.6 L1464.1,531.5 L1465.6,531.4 L1467.2,531.3 L1468.7,531.2 L1470.2,531.1 L1471.7,530.9 L1473.3,530.8 L1474.8,530.7 L1476.3,530.5 L1477.8,530.4 L1479.4,530.2 L1480.9,530.0 L1482.4,529.9 L1483.9,529.7 L1485.5,529.5 L1487.0,529.3 L1488.5,529.1 L1490.0,529.0 L1491.5,528.8 L1493.1,528.6 L1494.6,528.4 L1496.1,528.1 L1497.6,527.9 L1499.1,527.7 L1500.7,527.5 L1502.2,527.3 L1503.7,527.0 L1505.2,526.8 L1506.7,526.6 L1508.2,526.3 L1509.8,526.1 L1511.3,525.8 L1512.8,525.6 L1514.3,525.3 L1515.8,525.1 L1517.3,524.8 L1518.8,524.6 L1520.3,524.3 L1521.9,524.0 L1523.4,523.8 L1524.9,523.5 L1526.4,523.2 L1527.9,523.0 L1529.4,522.7 L1530.9,522.4 L1532.4,522.1 L1533.9,521.8 L1535.4,521.6 L1536.9,521.3 L1538.5,521.0 L1540.0,520.7 L1541.5,520.4 L1543.0,520.1 L1544.5,519.9 L1546.0,519.6 L1547.5,519.3 L1549.0,519.0 L1550.5,518.7 L1552.0,518.4 L1553.4,517.9 L1554.8,517.3 L1556.2,516.8 L1557.7,516.3 L1559.1,515.8 L1560.5,515.3 L1561.9,514.8 L1563.4,514.3 L1564.8,513.8 L1566.3,513.3 L1567.7,512.8 L1569.2,512.4 L1570.6,511.9 L1572.1,511.5 L1573.5,511.0 L1575.0,510.6 L1576.4,510.1 L1577.9,509.7 L1579.4,509.3 L1580.8,508.9 L1582.3,508.5 L1583.8,508.1 L1585.3,507.7 L1586.7,507.4 L1588.2,507.0 L1589.7,506.7 L1591.2,506.3 L1592.7,506.0 L1594.2,505.7 L1595.7,505.3 L1597.2,505.0 L1598.6,504.7 L1600.1,504.4 L1601.6,504.2 L1603.1,503.9 L1604.6,503.6 L1606.1,503.4 L1607.6,503.2 L1609.2,502.9 L1610.7,502.7 L1612.2,502.5 L1613.7,502.3 L1615.2,502.1 L1616.7,502.0 L1618.2,501.8 L1619.7,501.7 L1621.2,501.5 L1622.7,501.4 L1624.2,501.3 L1625.7,501.2 L1627.3,501.1 L1628.8,501.0 L1630.3,501.0 L1631.8,500.9 L1633.3,500.9 L1634.8,500.8 L1636.3,500.8 L1637.8,500.8 L1639.4,500.8 L1640.9,500.9 L1642.4,500.9 L1643.9,500.9 L1645.4,501.0 L1646.9,501.1 L1648.4,501.2 L1649.9,501.3 L1651.4,501.4 L1652.9,501.6 L1654.4,501.7 L1655.9,501.9 L1657.4,502.1 L1658.9,502.2 L1660.4,502.5 L1661.9,502.7 L1663.4,502.9 L1664.9,503.2 L1666.4,503.5 L1667.9,503.7 L1669.4,504.0 L1670.9,504.4 L1672.4,504.7 L1673.8,505.0 L1675.3,505.4 L1676.8,505.8 L1678.3,506.2 L1679.8,506.6 L1681.2,507.0 L1682.7,507.5 L1684.2,508.0 L1685.6,508.4 L1687.1,508.9 L1688.5,509.5 L1690.0,510.0" fill="none" stroke="#661f98" stroke-width="2.9" stroke-linejoin="round"/>
<path d="M1070.8,551.0 L1105.4,537.8 L1106.3,536.5 L1107.2,535.3 L1108.1,534.1 L1109.0,532.8 L1110.0,531.6 L1111.1,530.4 L1112.1,529.2 L1113.2,528.1 L1114.3,526.9 L1115.4,525.8 L1116.6,524.7 L1117.8,523.7 L1119.0,522.6 L1120.2,521.6 L1121.5,520.7 L1122.8,519.8 L1124.1,518.9 L1125.4,518.0 L1126.7,517.2 L1128.1,516.5 L1129.4,515.7 L1130.8,515.1 L1132.2,514.5 L1133.6,513.9 L1135.0,513.4 L1136.4,512.9 L1137.9,512.6 L1139.3,512.2 L1140.8,512.0 L1142.2,511.8 L1143.7,511.6 L1145.2,511.6 L1146.6,511.6 L1148.1,511.7 L1149.6,511.8 L1151.0,512.1 L1152.5,512.4 L1154.0,512.8 L1155.4,513.3 L1156.9,513.8 L1158.3,514.5 L1159.8,515.3 L1161.2,516.1 L1162.7,517.0 L1164.1,518.1 L1165.5,519.2 L1167.0,519.3 L1168.5,519.4 L1170.0,519.6 L1171.5,519.7 L1173.0,519.8 L1174.6,519.9 L1176.1,520.1 L1177.6,520.2 L1179.1,520.3 L1180.6,520.4 L1182.1,520.5 L1183.6,520.7 L1185.1,520.8 L1186.6,520.9 L1188.1,521.0 L1189.6,521.1 L1191.2,521.2 L1192.7,521.4 L1194.2,521.5 L1195.7,521.6 L1197.2,521.7 L1198.7,521.8 L1200.2,521.9 L1201.7,522.1 L1203.2,522.2 L1204.7,522.3 L1206.3,522.4 L1207.8,522.5 L1209.3,522.6 L1210.8,522.7 L1212.3,522.8 L1213.8,523.0 L1215.3,523.1 L1216.8,523.2 L1218.3,523.3 L1219.8,523.4 L1221.3,523.5 L1222.9,523.6 L1224.4,523.8 L1225.9,523.9 L1227.4,524.0 L1228.9,524.1 L1230.4,524.2 L1231.9,524.3 L1233.4,524.4 L1234.9,524.5 L1236.4,524.7 L1238.0,524.8 L1239.5,524.9 L1241.0,525.0 L1242.5,525.1 L1244.0,525.2 L1245.5,525.3 L1247.0,525.5 L1248.5,525.6 L1250.0,525.7 L1251.5,525.8 L1253.0,525.9 L1254.6,526.0 L1256.1,526.2 L1257.6,526.3 L1259.1,526.4 L1260.6,526.5 L1262.1,526.6 L1263.6,526.7 L1265.1,526.9 L1266.6,527.0 L1268.1,527.1 L1269.7,527.2 L1271.2,527.3 L1272.7,527.5 L1274.2,527.6 L1275.7,527.7 L1277.2,527.8 L1278.7,528.0 L1280.2,528.1 L1281.7,528.2 L1283.2,528.3 L1284.7,528.4 L1286.2,528.6 L1287.8,528.7 L1289.3,528.8 L1290.8,529.0 L1292.3,529.1 L1293.8,529.2 L1295.3,529.3 L1296.8,529.5 L1298.3,529.6 L1299.8,529.7 L1301.3,529.9 L1302.8,530.0 L1304.3,530.1 L1305.9,530.3 L1307.4,530.4 L1308.9,530.6 L1310.4,530.7 L1311.9,530.8 L1313.4,531.0 L1314.9,531.1 L1316.4,531.3 L1317.9,531.4 L1319.4,531.5 L1320.9,531.7 L1322.4,531.8 L1323.9,532.0 L1325.5,532.1 L1327.0,532.3 L1328.5,532.4 L1330.0,532.6 L1331.5,532.7 L1333.0,532.9 L1334.5,533.0 L1336.0,533.2 L1488.0,510.0 L1577.2,528.6 L1696.0,523.8" fill="none" stroke="#00b050" stroke-width="2.9" stroke-linejoin="round"/>
<path d="M1070.8,519.2 L1072.3,519.5 L1073.8,519.8 L1075.3,520.2 L1076.8,520.5 L1078.2,520.8 L1079.7,521.1 L1081.2,521.4 L1082.7,521.6 L1084.2,521.9 L1085.7,522.2 L1087.2,522.5 L1088.7,522.7 L1090.2,523.0 L1091.7,523.3 L1093.2,523.5 L1094.7,523.8 L1096.2,524.0 L1097.7,524.2 L1099.2,524.5 L1100.7,524.7 L1102.2,524.9 L1103.7,525.1 L1105.2,525.4 L1106.7,525.6 L1108.2,525.8 L1109.7,526.0 L1111.2,526.2 L1112.7,526.3 L1114.2,526.5 L1115.7,526.7 L1117.3,526.9 L1118.8,527.0 L1120.3,527.2 L1121.8,527.4 L1123.3,527.5 L1124.8,527.7 L1126.3,527.8 L1127.8,528.0 L1129.3,528.1 L1130.9,528.2 L1132.4,528.3 L1133.9,528.5 L1135.4,528.6 L1136.9,528.7 L1138.4,528.8 L1139.9,528.9 L1141.5,529.0 L1143.0,529.1 L1144.5,529.2 L1146.0,529.3 L1147.5,529.3 L1149.0,529.4 L1150.5,529.5 L1152.1,529.5 L1153.6,529.6 L1155.1,529.7 L1156.6,529.7 L1158.1,529.8 L1159.6,529.8 L1161.2,529.8 L1162.7,529.9 L1164.2,529.9 L1165.7,529.9 L1167.2,529.9 L1168.8,530.0 L1170.3,530.0 L1171.8,530.0 L1173.3,530.0 L1174.8,530.0 L1176.4,530.0 L1177.9,530.0 L1179.4,530.0 L1180.9,529.9 L1182.4,529.9 L1183.9,529.9 L1185.5,529.8 L1187.0,529.8 L1188.5,529.8 L1190.0,529.7 L1191.5,529.7 L1193.1,529.6 L1194.6,529.6 L1196.1,529.5 L1197.6,529.4 L1199.1,529.4 L1200.6,529.3 L1202.2,529.2 L1203.7,529.1 L1205.2,529.0 L1206.7,529.0 L1208.2,528.9 L1209.7,528.8 L1211.3,528.7 L1212.8,528.6 L1214.3,528.4 L1215.8,528.3 L1217.3,528.2 L1218.8,528.1 L1220.3,528.0 L1221.9,527.8 L1223.4,527.7 L1224.9,527.6 L1226.4,527.4 L1227.9,527.3 L1229.4,527.1 L1230.9,527.0 L1232.4,526.8 L1233.9,526.6 L1235.5,526.5 L1237.0,526.3 L1238.5,526.1 L1240.0,526.0 L1241.5,525.8 L1243.0,525.6 L1244.5,525.4 L1246.0,525.9 L1247.4,526.4 L1248.9,526.9 L1250.3,527.3 L1251.8,527.8 L1253.3,528.2 L1254.7,528.7 L1256.2,529.1 L1257.7,529.5 L1259.2,529.9 L1260.6,530.3 L1262.1,530.7 L1263.6,531.1 L1265.1,531.5 L1266.6,531.9 L1268.1,532.2 L1269.6,532.6 L1271.0,532.9 L1272.5,533.3 L1274.0,533.6 L1275.5,533.9 L1277.0,534.2 L1278.5,534.5 L1280.0,534.8 L1281.5,535.1 L1283.1,535.4 L1284.6,535.7 L1286.1,535.9 L1287.6,536.2 L1289.1,536.5 L1290.6,536.7 L1292.1,537.0 L1293.6,537.2 L1295.1,537.4 L1296.7,537.6 L1298.2,537.9 L1299.7,538.1 L1301.2,538.3 L1302.7,538.5 L1304.3,538.7 L1305.8,538.8 L1307.3,539.0 L1308.8,539.2 L1310.4,539.4 L1311.9,539.5 L1313.4,539.7 L1314.9,539.8 L1316.5,540.0 L1318.0,540.1 L1319.5,540.3 L1321.1,540.4 L1322.6,540.5 L1324.1,540.6 L1325.6,540.7 L1327.2,540.9 L1328.7,541.0 L1330.2,541.1 L1331.8,541.2 L1333.3,541.3 L1334.8,541.4 L1336.4,541.4 L1337.9,541.5 L1339.4,541.6 L1341.0,541.7 L1342.5,541.7 L1344.0,541.8 L1345.5,541.9 L1347.1,541.9 L1348.6,542.0 L1598.8,532.8 L1600.2,532.0 L1601.5,531.2 L1602.9,530.4 L1604.3,529.7 L1605.7,529.0 L1607.1,528.3 L1608.5,527.7 L1610.0,527.0 L1611.4,526.5 L1612.8,525.9 L1614.3,525.4 L1615.8,524.9 L1617.2,524.4 L1618.7,524.0 L1620.2,523.6 L1621.7,523.2 L1623.1,522.9 L1624.6,522.6 L1626.1,522.3 L1627.6,522.0 L1629.1,521.8 L1630.7,521.6 L1632.2,521.4 L1633.7,521.2 L1635.2,521.1 L1636.7,521.0 L1638.3,520.9 L1639.8,520.8 L1641.3,520.8 L1642.8,520.8 L1644.4,520.8 L1645.9,520.9 L1647.4,521.0 L1649.0,521.1 L1650.5,521.2 L1652.0,521.3 L1653.6,521.5 L1655.1,521.7 L1656.6,521.9 L1658.1,522.2 L1659.6,522.4 L1661.2,522.7 L1662.7,523.0 L1664.2,523.4 L1665.7,523.7 L1667.2,524.1 L1668.7,524.5 L1670.2,524.9 L1671.6,525.3 L1673.1,525.8 L1674.6,526.3 L1676.1,526.8 L1677.5,527.3 L1679.0,527.8 L1680.4,528.4 L1681.8,529.0 L1683.3,529.6 L1684.7,530.2 L1686.1,530.8 L1687.5,531.5 L1688.9,532.2 L1690.3,532.9 L1691.6,533.6 L1693.0,534.3 L1694.3,535.0 L1695.7,535.8 L1697.0,536.6 L1698.3,537.4 L1699.6,538.2" fill="none" stroke="#ec680a" stroke-width="2.9" stroke-linejoin="round"/>
<path d="M400.4,92.5 H466.4" stroke="#661f98" stroke-width="2.3"/>
<path d="M400.4,148.0 H463.4" stroke="#574a82" stroke-width="2.4" stroke-dasharray="4.8 2.5"/>
<path d="M400.4,193.9 H466.4" stroke="#00b050" stroke-width="2.3"/>
<path d="M400.4,239.9 H463.4" stroke="#00b050" stroke-width="2.4" stroke-dasharray="4.8 2.5"/>
<path d="M400.4,286.1 H466.4" stroke="#ec680a" stroke-width="2.3"/>
<path d="M400.4,332.0 H463.4" stroke="#ec680a" stroke-width="2.4" stroke-dasharray="4.8 2.5"/>
<path d="M1160.4,102.2 H1213.4" stroke="#661f98" stroke-width="2.3"/>
<path d="M1160.4,147.6 H1213.4" stroke="#00b050" stroke-width="2.3"/>
<path d="M1160.4,193.8 H1213.4" stroke="#ec680a" stroke-width="2.3"/>
<g font-family="'Liberation Serif','Times New Roman',serif" fill="#000">
<text transform="translate(100.5,35.4) scale(1.0,1.03)" font-size="39.5" text-anchor="end">1.0</text>
<text transform="translate(98.6,84.0) scale(1.0,1.03)" font-size="39.5" text-anchor="end">0.9</text>
<text transform="translate(98.6,131.2) scale(1.0,1.03)" font-size="39.5" text-anchor="end">0.8</text>
<text transform="translate(98.6,188.4) scale(1.0,1.03)" font-size="39.5" text-anchor="end">0.7</text>
<text transform="translate(98.6,244.8) scale(1.0,1.03)" font-size="39.5" text-anchor="end">0.6</text>
<text transform="translate(98.6,296.8) scale(1.0,1.03)" font-size="39.5" text-anchor="end">0.5</text>
<text transform="translate(98.6,349.0) scale(1.0,1.03)" font-size="39.5" text-anchor="end">0.4</text>
<text transform="translate(98.6,405.9) scale(1.0,1.03)" font-size="39.5" text-anchor="end">0.3</text>
<text transform="translate(98.6,462.2) scale(1.0,1.03)" font-size="39.5" text-anchor="end">0.2</text>
<text transform="translate(98.6,521.2) scale(1.0,1.03)" font-size="39.5" text-anchor="end">0.1</text>
<text transform="translate(71.2,571.1) scale(1.0,1.03)" font-size="39.5" text-anchor="middle">0</text>
<text transform="translate(130.5,596.2) scale(0.965,1.035)" font-size="39.5" text-anchor="middle">0</text>
<text transform="translate(218.5,596.2) scale(0.965,1.035)" font-size="39.5" text-anchor="middle">20</text>
<text transform="translate(320.5,596.2) scale(0.965,1.035)" font-size="39.5" text-anchor="middle">40</text>
<text transform="translate(429.5,596.2) scale(0.965,1.035)" font-size="39.5" text-anchor="middle">60</text>
<text transform="translate(531.0,596.2) scale(0.965,1.035)" font-size="39.5" text-anchor="middle">80</text>
<text transform="translate(641.6,596.2) scale(0.965,1.035)" font-size="39.5" text-anchor="middle">100</text>
<text transform="translate(750.8,596.2) scale(0.965,1.035)" font-size="39.5" text-anchor="middle">120</text>
<text transform="translate(849.8,596.2) scale(0.965,1.035)" font-size="39.5" text-anchor="middle">140</text>
<text transform="translate(1055.8,31.9) scale(1.0,1.03)" font-size="39.5" text-anchor="end">0.5</text>
<text transform="translate(1055.8,140.6) scale(1.0,1.03)" font-size="39.5" text-anchor="end">0.4</text>
<text transform="translate(1055.8,249.3) scale(1.0,1.03)" font-size="39.5" text-anchor="end">0.3</text>
<text transform="translate(1055.8,354.6) scale(1.0,1.03)" font-size="39.5" text-anchor="end">0.2</text>
<text transform="translate(1055.8,456.3) scale(1.0,1.03)" font-size="39.5" text-anchor="end">0.1</text>
<text transform="translate(1027,567.5) scale(1.0,1.03)" font-size="39.5" text-anchor="middle">0</text>
<text x="1087.5" y="593" font-size="39.5" text-anchor="middle">0</text>
<text x="1175.8" y="593" font-size="39.5" text-anchor="middle">20</text>
<text x="1279.5" y="593" font-size="39.5" text-anchor="middle">40</text>
<text x="1390" y="593" font-size="39.5" text-anchor="middle">60</text>
<text x="1492.5" y="593" font-size="39.5" text-anchor="middle">80</text>
<text x="1603.5" y="593" font-size="39.5" text-anchor="middle">100</text>
<text x="1714.2" y="593" font-size="39.5" text-anchor="middle">120</text>
<text transform="translate(32.1,521) rotate(-90)" font-size="39" textLength="452" lengthAdjust="spacingAndGlyphs">Dimensionless concentration</text>
<text transform="translate(984.2,510) rotate(-90)" font-size="39" textLength="451" lengthAdjust="spacingAndGlyphs">Dimensionless concentration</text>
<text transform="translate(389.2,642.7) scale(1.0,1.045)" font-size="38.7" text-anchor="start">Position x/m</text>
<text transform="translate(1287.8,638.8) scale(1.0,1.03)" font-size="38.7" text-anchor="start">Position x/m</text>
<text x="471.5" y="717.8" font-size="39.5" text-anchor="start">(a)</text>
<text x="1382" y="713.6" font-size="39.5" text-anchor="start">(b)</text>
<text x="481.2" y="101.2" font-size="32.65" text-anchor="start">Injection Analytical solution</text>
<text x="479.0" y="157.7" font-size="32.65" text-anchor="start">Injection&#160; Numerical solution</text>
<text x="479.5" y="206.9" font-size="32.65" text-anchor="start">Stuck well Analytical solution</text>
<text x="479.5" y="251.7" font-size="32.65" text-anchor="start">Stuck well Numerical solution</text>
<text x="480.5" y="297.7" font-size="32.65" text-anchor="start">Return flow&#160; Analytical solution</text>
<text x="480.5" y="345.4" font-size="32.65" text-anchor="start">Return flow Numerical solution</text>
<text x="1219.4" y="115.0" font-size="32.5" text-anchor="start">Injection error</text>
<text x="1219.4" y="161.2" font-size="32.5" text-anchor="start">Stuck well error</text>
<text x="1219.4" y="207.3" font-size="32.5" text-anchor="start">Return flow error</text>
</g>
<rect x="256.2" y="660.6" width="3" height="1.5" fill="#3a3a3a"/><rect x="296.8" y="660.6" width="3" height="1.5" fill="#3a3a3a"/><rect x="341.4" y="660.6" width="3" height="1.5" fill="#3a3a3a"/><rect x="409.1" y="660.6" width="3" height="1.5" fill="#3a3a3a"/><rect x="528.1" y="660.6" width="3" height="1.5" fill="#3a3a3a"/><rect x="572.3" y="660.6" width="3" height="1.5" fill="#3a3a3a"/><rect x="628.3" y="660.6" width="3" height="1.5" fill="#3a3a3a"/><rect x="670.5" y="660.6" width="3" height="1.5" fill="#3a3a3a"/><rect x="751.9" y="660.6" width="4.6" height="1.5" fill="#3a3a3a"/>
</svg>
</body></html>
